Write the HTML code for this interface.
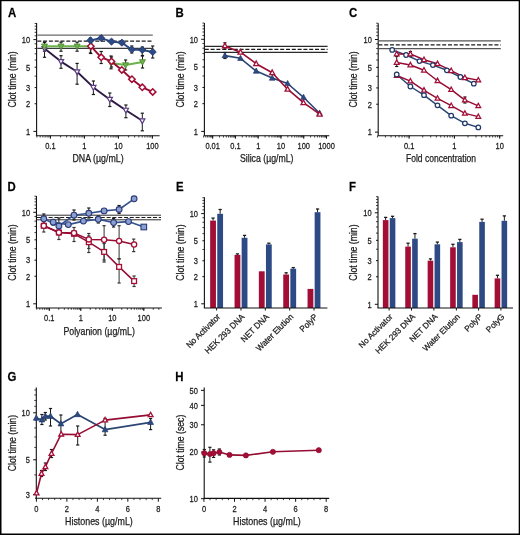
<!DOCTYPE html>
<html><head><meta charset="utf-8"><style>
html,body{margin:0;padding:0;background:#fff;}
svg{display:block;will-change:transform;}
text{font-family:"Liberation Sans", sans-serif;stroke:#222;stroke-width:0.25px;paint-order:stroke;}
</style></head><body>
<svg width="520" height="535" viewBox="0 0 520 535">
<rect x="0" y="0" width="520" height="535" fill="#fff"/>
<text x="0" y="0" font-size="12.4" font-weight="bold" fill="#000" transform="translate(7.9 16.6) scale(0.92 1)">A</text>
<text x="15.6" y="79.4" font-size="10.4" text-anchor="middle" font-weight="normal" fill="#1a1a1a" textLength="56.3" lengthAdjust="spacingAndGlyphs" transform="rotate(-90 15.6 79.4)" >Clot time (min)</text>
<line x1="36.6" y1="23.1" x2="36.6" y2="135.7" stroke="#111" stroke-width="1.1" />
<line x1="34.6" y1="76.13" x2="36.6" y2="76.13" stroke="#111" stroke-width="0.8" />
<line x1="34.6" y1="59.97" x2="36.6" y2="59.97" stroke="#111" stroke-width="0.8" />
<line x1="34.6" y1="53.82" x2="36.6" y2="53.82" stroke="#111" stroke-width="0.8" />
<line x1="34.6" y1="48.5" x2="36.6" y2="48.5" stroke="#111" stroke-width="0.8" />
<line x1="34.6" y1="43.8" x2="36.6" y2="43.8" stroke="#111" stroke-width="0.8" />
<line x1="34.6" y1="35.8" x2="36.6" y2="35.8" stroke="#111" stroke-width="0.8" />
<line x1="34.6" y1="32.33" x2="36.6" y2="32.33" stroke="#111" stroke-width="0.8" />
<line x1="34.6" y1="29.14" x2="36.6" y2="29.14" stroke="#111" stroke-width="0.8" />
<line x1="34.6" y1="26.19" x2="36.6" y2="26.19" stroke="#111" stroke-width="0.8" />
<line x1="34.6" y1="23.43" x2="36.6" y2="23.43" stroke="#111" stroke-width="0.8" />
<line x1="33.4" y1="131.4" x2="36.6" y2="131.4" stroke="#111" stroke-width="1.0" />
<text x="0" y="0" font-size="8.7" text-anchor="end" font-weight="normal" fill="#1a1a1a" transform="translate(30.2 134.7) scale(0.86 1)" >1</text>
<line x1="34.6" y1="103.77" x2="36.6" y2="103.77" stroke="#111" stroke-width="1.0" />
<text x="0" y="0" font-size="8.7" text-anchor="end" font-weight="normal" fill="#1a1a1a" transform="translate(30.2 107.07) scale(0.86 1)" >2</text>
<line x1="34.6" y1="87.6" x2="36.6" y2="87.6" stroke="#111" stroke-width="1.0" />
<text x="0" y="0" font-size="8.7" text-anchor="end" font-weight="normal" fill="#1a1a1a" transform="translate(30.2 90.9) scale(0.86 1)" >3</text>
<line x1="34.6" y1="67.23" x2="36.6" y2="67.23" stroke="#111" stroke-width="1.0" />
<text x="0" y="0" font-size="8.7" text-anchor="end" font-weight="normal" fill="#1a1a1a" transform="translate(30.2 70.53) scale(0.86 1)" >5</text>
<line x1="33.4" y1="39.6" x2="36.6" y2="39.6" stroke="#111" stroke-width="1.0" />
<text x="0" y="0" font-size="8.7" text-anchor="end" font-weight="normal" fill="#1a1a1a" transform="translate(30.2 42.9) scale(0.86 1)" >10</text>
<line x1="35.9" y1="135.7" x2="159.6" y2="135.7" stroke="#111" stroke-width="1.1" />
<line x1="36.87" y1="135.7" x2="36.87" y2="137.5" stroke="#111" stroke-width="0.8" />
<line x1="40.16" y1="135.7" x2="40.16" y2="137.5" stroke="#111" stroke-width="0.8" />
<line x1="42.86" y1="135.7" x2="42.86" y2="137.5" stroke="#111" stroke-width="0.8" />
<line x1="45.13" y1="135.7" x2="45.13" y2="137.5" stroke="#111" stroke-width="0.8" />
<line x1="47.11" y1="135.7" x2="47.11" y2="137.5" stroke="#111" stroke-width="0.8" />
<line x1="48.84" y1="135.7" x2="48.84" y2="137.5" stroke="#111" stroke-width="0.8" />
<line x1="50.4" y1="135.7" x2="50.4" y2="137.5" stroke="#111" stroke-width="0.8" />
<line x1="60.64" y1="135.7" x2="60.64" y2="137.5" stroke="#111" stroke-width="0.8" />
<line x1="66.62" y1="135.7" x2="66.62" y2="137.5" stroke="#111" stroke-width="0.8" />
<line x1="70.87" y1="135.7" x2="70.87" y2="137.5" stroke="#111" stroke-width="0.8" />
<line x1="74.16" y1="135.7" x2="74.16" y2="137.5" stroke="#111" stroke-width="0.8" />
<line x1="76.86" y1="135.7" x2="76.86" y2="137.5" stroke="#111" stroke-width="0.8" />
<line x1="79.13" y1="135.7" x2="79.13" y2="137.5" stroke="#111" stroke-width="0.8" />
<line x1="81.11" y1="135.7" x2="81.11" y2="137.5" stroke="#111" stroke-width="0.8" />
<line x1="82.84" y1="135.7" x2="82.84" y2="137.5" stroke="#111" stroke-width="0.8" />
<line x1="84.4" y1="135.7" x2="84.4" y2="137.5" stroke="#111" stroke-width="0.8" />
<line x1="94.64" y1="135.7" x2="94.64" y2="137.5" stroke="#111" stroke-width="0.8" />
<line x1="100.62" y1="135.7" x2="100.62" y2="137.5" stroke="#111" stroke-width="0.8" />
<line x1="104.87" y1="135.7" x2="104.87" y2="137.5" stroke="#111" stroke-width="0.8" />
<line x1="108.16" y1="135.7" x2="108.16" y2="137.5" stroke="#111" stroke-width="0.8" />
<line x1="110.86" y1="135.7" x2="110.86" y2="137.5" stroke="#111" stroke-width="0.8" />
<line x1="113.13" y1="135.7" x2="113.13" y2="137.5" stroke="#111" stroke-width="0.8" />
<line x1="115.11" y1="135.7" x2="115.11" y2="137.5" stroke="#111" stroke-width="0.8" />
<line x1="116.84" y1="135.7" x2="116.84" y2="137.5" stroke="#111" stroke-width="0.8" />
<line x1="118.4" y1="135.7" x2="118.4" y2="137.5" stroke="#111" stroke-width="0.8" />
<line x1="128.64" y1="135.7" x2="128.64" y2="137.5" stroke="#111" stroke-width="0.8" />
<line x1="134.62" y1="135.7" x2="134.62" y2="137.5" stroke="#111" stroke-width="0.8" />
<line x1="138.87" y1="135.7" x2="138.87" y2="137.5" stroke="#111" stroke-width="0.8" />
<line x1="142.16" y1="135.7" x2="142.16" y2="137.5" stroke="#111" stroke-width="0.8" />
<line x1="144.86" y1="135.7" x2="144.86" y2="137.5" stroke="#111" stroke-width="0.8" />
<line x1="147.13" y1="135.7" x2="147.13" y2="137.5" stroke="#111" stroke-width="0.8" />
<line x1="149.11" y1="135.7" x2="149.11" y2="137.5" stroke="#111" stroke-width="0.8" />
<line x1="150.84" y1="135.7" x2="150.84" y2="137.5" stroke="#111" stroke-width="0.8" />
<line x1="152.4" y1="135.7" x2="152.4" y2="137.5" stroke="#111" stroke-width="0.8" />
<line x1="50.4" y1="135.7" x2="50.4" y2="138.7" stroke="#111" stroke-width="1.0" />
<text x="0" y="0" font-size="8.7" text-anchor="middle" font-weight="normal" fill="#1a1a1a" transform="translate(50.4 149) scale(0.86 1)" >0.1</text>
<line x1="84.4" y1="135.7" x2="84.4" y2="138.7" stroke="#111" stroke-width="1.0" />
<text x="0" y="0" font-size="8.7" text-anchor="middle" font-weight="normal" fill="#1a1a1a" transform="translate(84.4 149) scale(0.86 1)" >1</text>
<line x1="118.4" y1="135.7" x2="118.4" y2="138.7" stroke="#111" stroke-width="1.0" />
<text x="0" y="0" font-size="8.7" text-anchor="middle" font-weight="normal" fill="#1a1a1a" transform="translate(118.4 149) scale(0.86 1)" >10</text>
<line x1="152.4" y1="135.7" x2="152.4" y2="138.7" stroke="#111" stroke-width="1.0" />
<text x="0" y="0" font-size="8.7" text-anchor="middle" font-weight="normal" fill="#1a1a1a" transform="translate(152.4 149) scale(0.86 1)" >100</text>
<text x="98.05" y="162.3" font-size="10.4" text-anchor="middle" font-weight="normal" fill="#1a1a1a" textLength="51.2" lengthAdjust="spacingAndGlyphs" >DNA (&#181;g/mL)</text>
<line x1="37.3" y1="35.1" x2="152.8" y2="35.1" stroke="#6a6a6a" stroke-width="1.2" />
<line x1="37.3" y1="41.2" x2="152.8" y2="41.2" stroke="#1a1a1a" stroke-width="1.2" stroke-dasharray="4 1.8"/>
<line x1="37.3" y1="48.3" x2="152.8" y2="48.3" stroke="#3a3a3a" stroke-width="1.2" />
<line x1="44.5" y1="42.5" x2="44.5" y2="57.3" stroke="#1a1a1a" stroke-width="1.0" />
<line x1="42.9" y1="42.5" x2="46.1" y2="42.5" stroke="#1a1a1a" stroke-width="1.2" />
<line x1="42.9" y1="57.3" x2="46.1" y2="57.3" stroke="#1a1a1a" stroke-width="1.2" />
<line x1="61" y1="55.7" x2="61" y2="68.3" stroke="#1a1a1a" stroke-width="1.0" />
<line x1="59.4" y1="55.7" x2="62.6" y2="55.7" stroke="#1a1a1a" stroke-width="1.2" />
<line x1="59.4" y1="68.3" x2="62.6" y2="68.3" stroke="#1a1a1a" stroke-width="1.2" />
<line x1="77.1" y1="63.4" x2="77.1" y2="84.2" stroke="#1a1a1a" stroke-width="1.0" />
<line x1="75.5" y1="63.4" x2="78.7" y2="63.4" stroke="#1a1a1a" stroke-width="1.2" />
<line x1="75.5" y1="84.2" x2="78.7" y2="84.2" stroke="#1a1a1a" stroke-width="1.2" />
<line x1="93.4" y1="81" x2="93.4" y2="94.5" stroke="#1a1a1a" stroke-width="1.0" />
<line x1="91.8" y1="81" x2="95" y2="81" stroke="#1a1a1a" stroke-width="1.2" />
<line x1="91.8" y1="94.5" x2="95" y2="94.5" stroke="#1a1a1a" stroke-width="1.2" />
<line x1="109.8" y1="93" x2="109.8" y2="106.5" stroke="#1a1a1a" stroke-width="1.0" />
<line x1="108.2" y1="93" x2="111.4" y2="93" stroke="#1a1a1a" stroke-width="1.2" />
<line x1="108.2" y1="106.5" x2="111.4" y2="106.5" stroke="#1a1a1a" stroke-width="1.2" />
<line x1="125.9" y1="105" x2="125.9" y2="117.7" stroke="#1a1a1a" stroke-width="1.0" />
<line x1="124.3" y1="105" x2="127.5" y2="105" stroke="#1a1a1a" stroke-width="1.2" />
<line x1="124.3" y1="117.7" x2="127.5" y2="117.7" stroke="#1a1a1a" stroke-width="1.2" />
<line x1="142.3" y1="113.2" x2="142.3" y2="130.8" stroke="#1a1a1a" stroke-width="1.0" />
<line x1="140.7" y1="113.2" x2="143.9" y2="113.2" stroke="#1a1a1a" stroke-width="1.2" />
<line x1="140.7" y1="130.8" x2="143.9" y2="130.8" stroke="#1a1a1a" stroke-width="1.2" />
<line x1="44.5" y1="42.2" x2="44.5" y2="51.2" stroke="#1a1a1a" stroke-width="1.0" />
<line x1="42.9" y1="42.2" x2="46.1" y2="42.2" stroke="#1a1a1a" stroke-width="1.2" />
<line x1="42.9" y1="51.2" x2="46.1" y2="51.2" stroke="#1a1a1a" stroke-width="1.2" />
<line x1="61" y1="42.2" x2="61" y2="51.2" stroke="#1a1a1a" stroke-width="1.0" />
<line x1="59.4" y1="42.2" x2="62.6" y2="42.2" stroke="#1a1a1a" stroke-width="1.2" />
<line x1="59.4" y1="51.2" x2="62.6" y2="51.2" stroke="#1a1a1a" stroke-width="1.2" />
<line x1="77.1" y1="42.2" x2="77.1" y2="51.2" stroke="#1a1a1a" stroke-width="1.0" />
<line x1="75.5" y1="42.2" x2="78.7" y2="42.2" stroke="#1a1a1a" stroke-width="1.2" />
<line x1="75.5" y1="51.2" x2="78.7" y2="51.2" stroke="#1a1a1a" stroke-width="1.2" />
<line x1="111" y1="56" x2="111" y2="68.8" stroke="#1a1a1a" stroke-width="1.0" />
<line x1="109.4" y1="56" x2="112.6" y2="56" stroke="#1a1a1a" stroke-width="1.2" />
<line x1="109.4" y1="68.8" x2="112.6" y2="68.8" stroke="#1a1a1a" stroke-width="1.2" />
<line x1="125.6" y1="60" x2="125.6" y2="70" stroke="#1a1a1a" stroke-width="1.0" />
<line x1="124" y1="60" x2="127.2" y2="60" stroke="#1a1a1a" stroke-width="1.2" />
<line x1="124" y1="70" x2="127.2" y2="70" stroke="#1a1a1a" stroke-width="1.2" />
<line x1="142.5" y1="55.5" x2="142.5" y2="68" stroke="#1a1a1a" stroke-width="1.0" />
<line x1="140.9" y1="55.5" x2="144.1" y2="55.5" stroke="#1a1a1a" stroke-width="1.2" />
<line x1="140.9" y1="68" x2="144.1" y2="68" stroke="#1a1a1a" stroke-width="1.2" />
<line x1="90.4" y1="38" x2="90.4" y2="53" stroke="#1a1a1a" stroke-width="1.0" />
<line x1="88.8" y1="38" x2="92" y2="38" stroke="#1a1a1a" stroke-width="1.2" />
<line x1="88.8" y1="53" x2="92" y2="53" stroke="#1a1a1a" stroke-width="1.2" />
<line x1="101.2" y1="36" x2="101.2" y2="39" stroke="#1a1a1a" stroke-width="1.0" />
<line x1="99.6" y1="36" x2="102.8" y2="36" stroke="#1a1a1a" stroke-width="1.2" />
<line x1="99.6" y1="39" x2="102.8" y2="39" stroke="#1a1a1a" stroke-width="1.2" />
<line x1="111.5" y1="40" x2="111.5" y2="43.5" stroke="#1a1a1a" stroke-width="1.0" />
<line x1="109.9" y1="40" x2="113.1" y2="40" stroke="#1a1a1a" stroke-width="1.2" />
<line x1="109.9" y1="43.5" x2="113.1" y2="43.5" stroke="#1a1a1a" stroke-width="1.2" />
<line x1="121.9" y1="41" x2="121.9" y2="44.5" stroke="#1a1a1a" stroke-width="1.0" />
<line x1="120.3" y1="41" x2="123.5" y2="41" stroke="#1a1a1a" stroke-width="1.2" />
<line x1="120.3" y1="44.5" x2="123.5" y2="44.5" stroke="#1a1a1a" stroke-width="1.2" />
<line x1="131.8" y1="46" x2="131.8" y2="53" stroke="#1a1a1a" stroke-width="1.0" />
<line x1="130.2" y1="46" x2="133.4" y2="46" stroke="#1a1a1a" stroke-width="1.2" />
<line x1="130.2" y1="53" x2="133.4" y2="53" stroke="#1a1a1a" stroke-width="1.2" />
<line x1="142.3" y1="47" x2="142.3" y2="56" stroke="#1a1a1a" stroke-width="1.0" />
<line x1="140.7" y1="47" x2="143.9" y2="47" stroke="#1a1a1a" stroke-width="1.2" />
<line x1="140.7" y1="56" x2="143.9" y2="56" stroke="#1a1a1a" stroke-width="1.2" />
<line x1="152.7" y1="46" x2="152.7" y2="58" stroke="#1a1a1a" stroke-width="1.0" />
<line x1="151.1" y1="46" x2="154.3" y2="46" stroke="#1a1a1a" stroke-width="1.2" />
<line x1="151.1" y1="58" x2="154.3" y2="58" stroke="#1a1a1a" stroke-width="1.2" />
<line x1="90.8" y1="43" x2="90.8" y2="53.5" stroke="#1a1a1a" stroke-width="1.0" />
<line x1="89.2" y1="43" x2="92.4" y2="43" stroke="#1a1a1a" stroke-width="1.2" />
<line x1="89.2" y1="53.5" x2="92.4" y2="53.5" stroke="#1a1a1a" stroke-width="1.2" />
<line x1="101.2" y1="51.5" x2="101.2" y2="63.5" stroke="#1a1a1a" stroke-width="1.0" />
<line x1="99.6" y1="51.5" x2="102.8" y2="51.5" stroke="#1a1a1a" stroke-width="1.2" />
<line x1="99.6" y1="63.5" x2="102.8" y2="63.5" stroke="#1a1a1a" stroke-width="1.2" />
<line x1="111.5" y1="57" x2="111.5" y2="67" stroke="#1a1a1a" stroke-width="1.0" />
<line x1="109.9" y1="57" x2="113.1" y2="57" stroke="#1a1a1a" stroke-width="1.2" />
<line x1="109.9" y1="67" x2="113.1" y2="67" stroke="#1a1a1a" stroke-width="1.2" />
<polyline points="44.5,48.6 61,61.6 77.1,71.8 93.4,87.4 109.8,99.4 125.9,110.2 142.3,120.8" fill="none" stroke="#2e1a45" stroke-width="1.9" stroke-linejoin="round"/>
<polygon points="44.5,51.46 47.1,46.65 41.9,46.65" fill="#fff" stroke="#5b3d82" stroke-width="1.2" stroke-linejoin="miter"/>
<polygon points="61,64.46 63.6,59.65 58.4,59.65" fill="#fff" stroke="#5b3d82" stroke-width="1.2" stroke-linejoin="miter"/>
<polygon points="77.1,74.66 79.7,69.85 74.5,69.85" fill="#fff" stroke="#5b3d82" stroke-width="1.2" stroke-linejoin="miter"/>
<polygon points="93.4,90.26 96,85.45 90.8,85.45" fill="#fff" stroke="#5b3d82" stroke-width="1.2" stroke-linejoin="miter"/>
<polygon points="109.8,102.26 112.4,97.45 107.2,97.45" fill="#fff" stroke="#5b3d82" stroke-width="1.2" stroke-linejoin="miter"/>
<polygon points="125.9,113.06 128.5,108.25 123.3,108.25" fill="#fff" stroke="#5b3d82" stroke-width="1.2" stroke-linejoin="miter"/>
<polygon points="142.3,123.66 144.9,118.85 139.7,118.85" fill="#fff" stroke="#5b3d82" stroke-width="1.2" stroke-linejoin="miter"/>
<polyline points="44.5,46.3 61,46.3 77.1,46.3 90.8,46.3" fill="none" stroke="#6db24a" stroke-width="2.0" stroke-linejoin="round"/>
<polyline points="111,63 125.6,65 142.5,61.9" fill="none" stroke="#6db24a" stroke-width="2.0" stroke-linejoin="round"/>
<polygon points="44.5,49.6 47.5,44.05 41.5,44.05" fill="#6db24a" stroke="#4c8a30" stroke-width="0.8" stroke-linejoin="miter"/>
<polygon points="61,49.6 64,44.05 58,44.05" fill="#6db24a" stroke="#4c8a30" stroke-width="0.8" stroke-linejoin="miter"/>
<polygon points="77.1,49.6 80.1,44.05 74.1,44.05" fill="#6db24a" stroke="#4c8a30" stroke-width="0.8" stroke-linejoin="miter"/>
<polygon points="111,66.3 114,60.75 108,60.75" fill="#6db24a" stroke="#4c8a30" stroke-width="0.8" stroke-linejoin="miter"/>
<polygon points="125.6,68.3 128.6,62.75 122.6,62.75" fill="#6db24a" stroke="#4c8a30" stroke-width="0.8" stroke-linejoin="miter"/>
<polygon points="142.5,65.2 145.5,59.65 139.5,59.65" fill="#6db24a" stroke="#4c8a30" stroke-width="0.8" stroke-linejoin="miter"/>
<polyline points="90.8,46.2 101.2,57.3 111.5,61.4 121.8,69.9 131.9,79.2 142.3,87.3 152.7,91.9" fill="none" stroke="#960c33" stroke-width="1.9" stroke-linejoin="round"/>
<polygon points="90.8,43 94,46.2 90.8,49.4 87.6,46.2" fill="#fff" stroke="#a30e36" stroke-width="1.5" stroke-linejoin="miter"/>
<polygon points="101.2,54.1 104.4,57.3 101.2,60.5 98,57.3" fill="#fff" stroke="#a30e36" stroke-width="1.5" stroke-linejoin="miter"/>
<polygon points="111.5,58.2 114.7,61.4 111.5,64.6 108.3,61.4" fill="#fff" stroke="#a30e36" stroke-width="1.5" stroke-linejoin="miter"/>
<polygon points="121.8,66.7 125,69.9 121.8,73.1 118.6,69.9" fill="#fff" stroke="#a30e36" stroke-width="1.5" stroke-linejoin="miter"/>
<polygon points="131.9,76 135.1,79.2 131.9,82.4 128.7,79.2" fill="#fff" stroke="#a30e36" stroke-width="1.5" stroke-linejoin="miter"/>
<polygon points="142.3,84.1 145.5,87.3 142.3,90.5 139.1,87.3" fill="#fff" stroke="#a30e36" stroke-width="1.5" stroke-linejoin="miter"/>
<polygon points="152.7,88.7 155.9,91.9 152.7,95.1 149.5,91.9" fill="#fff" stroke="#a30e36" stroke-width="1.5" stroke-linejoin="miter"/>
<polyline points="90.4,40.4 101.2,38.1 111.5,41.6 121.9,42.7 131.8,49.6 142.3,50 152.7,51.9" fill="none" stroke="#2d4a85" stroke-width="2.0" stroke-linejoin="round"/>
<polygon points="90.4,36.8 94,40.4 90.4,44 86.8,40.4" fill="#2d4a85" stroke="#213a6a" stroke-width="0.8" stroke-linejoin="miter"/>
<polygon points="101.2,34.5 104.8,38.1 101.2,41.7 97.6,38.1" fill="#2d4a85" stroke="#213a6a" stroke-width="0.8" stroke-linejoin="miter"/>
<polygon points="111.5,38 115.1,41.6 111.5,45.2 107.9,41.6" fill="#2d4a85" stroke="#213a6a" stroke-width="0.8" stroke-linejoin="miter"/>
<polygon points="121.9,39.1 125.5,42.7 121.9,46.3 118.3,42.7" fill="#2d4a85" stroke="#213a6a" stroke-width="0.8" stroke-linejoin="miter"/>
<polygon points="131.8,46 135.4,49.6 131.8,53.2 128.2,49.6" fill="#2d4a85" stroke="#213a6a" stroke-width="0.8" stroke-linejoin="miter"/>
<polygon points="142.3,46.4 145.9,50 142.3,53.6 138.7,50" fill="#2d4a85" stroke="#213a6a" stroke-width="0.8" stroke-linejoin="miter"/>
<polygon points="152.7,48.3 156.3,51.9 152.7,55.5 149.1,51.9" fill="#2d4a85" stroke="#213a6a" stroke-width="0.8" stroke-linejoin="miter"/>
<text x="0" y="0" font-size="12.4" font-weight="bold" fill="#000" transform="translate(175.6 16.5) scale(0.92 1)">B</text>
<text x="183.6" y="79.4" font-size="10.4" text-anchor="middle" font-weight="normal" fill="#1a1a1a" textLength="56.3" lengthAdjust="spacingAndGlyphs" transform="rotate(-90 183.6 79.4)" >Clot time (min)</text>
<line x1="204.4" y1="22.9" x2="204.4" y2="135.7" stroke="#111" stroke-width="1.1" />
<line x1="202.4" y1="75.95" x2="204.4" y2="75.95" stroke="#111" stroke-width="0.8" />
<line x1="202.4" y1="59.73" x2="204.4" y2="59.73" stroke="#111" stroke-width="0.8" />
<line x1="202.4" y1="53.57" x2="204.4" y2="53.57" stroke="#111" stroke-width="0.8" />
<line x1="202.4" y1="48.23" x2="204.4" y2="48.23" stroke="#111" stroke-width="0.8" />
<line x1="202.4" y1="43.51" x2="204.4" y2="43.51" stroke="#111" stroke-width="0.8" />
<line x1="202.4" y1="35.49" x2="204.4" y2="35.49" stroke="#111" stroke-width="0.8" />
<line x1="202.4" y1="32.01" x2="204.4" y2="32.01" stroke="#111" stroke-width="0.8" />
<line x1="202.4" y1="28.81" x2="204.4" y2="28.81" stroke="#111" stroke-width="0.8" />
<line x1="202.4" y1="25.84" x2="204.4" y2="25.84" stroke="#111" stroke-width="0.8" />
<line x1="202.4" y1="23.08" x2="204.4" y2="23.08" stroke="#111" stroke-width="0.8" />
<line x1="201.2" y1="131.4" x2="204.4" y2="131.4" stroke="#111" stroke-width="1.0" />
<text x="0" y="0" font-size="8.7" text-anchor="end" font-weight="normal" fill="#1a1a1a" transform="translate(198 134.7) scale(0.86 1)" >1</text>
<line x1="202.4" y1="103.68" x2="204.4" y2="103.68" stroke="#111" stroke-width="1.0" />
<text x="0" y="0" font-size="8.7" text-anchor="end" font-weight="normal" fill="#1a1a1a" transform="translate(198 106.98) scale(0.86 1)" >2</text>
<line x1="202.4" y1="87.46" x2="204.4" y2="87.46" stroke="#111" stroke-width="1.0" />
<text x="0" y="0" font-size="8.7" text-anchor="end" font-weight="normal" fill="#1a1a1a" transform="translate(198 90.76) scale(0.86 1)" >3</text>
<line x1="202.4" y1="67.02" x2="204.4" y2="67.02" stroke="#111" stroke-width="1.0" />
<text x="0" y="0" font-size="8.7" text-anchor="end" font-weight="normal" fill="#1a1a1a" transform="translate(198 70.32) scale(0.86 1)" >5</text>
<line x1="201.2" y1="39.3" x2="204.4" y2="39.3" stroke="#111" stroke-width="1.0" />
<text x="0" y="0" font-size="8.7" text-anchor="end" font-weight="normal" fill="#1a1a1a" transform="translate(198 42.6) scale(0.86 1)" >10</text>
<line x1="203.7" y1="135.7" x2="329.3" y2="135.7" stroke="#111" stroke-width="1.1" />
<line x1="203.6" y1="135.7" x2="203.6" y2="137.5" stroke="#111" stroke-width="0.8" />
<line x1="205.81" y1="135.7" x2="205.81" y2="137.5" stroke="#111" stroke-width="0.8" />
<line x1="207.61" y1="135.7" x2="207.61" y2="137.5" stroke="#111" stroke-width="0.8" />
<line x1="209.13" y1="135.7" x2="209.13" y2="137.5" stroke="#111" stroke-width="0.8" />
<line x1="210.45" y1="135.7" x2="210.45" y2="137.5" stroke="#111" stroke-width="0.8" />
<line x1="211.62" y1="135.7" x2="211.62" y2="137.5" stroke="#111" stroke-width="0.8" />
<line x1="212.66" y1="135.7" x2="212.66" y2="137.5" stroke="#111" stroke-width="0.8" />
<line x1="219.51" y1="135.7" x2="219.51" y2="137.5" stroke="#111" stroke-width="0.8" />
<line x1="223.52" y1="135.7" x2="223.52" y2="137.5" stroke="#111" stroke-width="0.8" />
<line x1="226.37" y1="135.7" x2="226.37" y2="137.5" stroke="#111" stroke-width="0.8" />
<line x1="228.58" y1="135.7" x2="228.58" y2="137.5" stroke="#111" stroke-width="0.8" />
<line x1="230.38" y1="135.7" x2="230.38" y2="137.5" stroke="#111" stroke-width="0.8" />
<line x1="231.9" y1="135.7" x2="231.9" y2="137.5" stroke="#111" stroke-width="0.8" />
<line x1="233.22" y1="135.7" x2="233.22" y2="137.5" stroke="#111" stroke-width="0.8" />
<line x1="234.39" y1="135.7" x2="234.39" y2="137.5" stroke="#111" stroke-width="0.8" />
<line x1="235.43" y1="135.7" x2="235.43" y2="137.5" stroke="#111" stroke-width="0.8" />
<line x1="242.28" y1="135.7" x2="242.28" y2="137.5" stroke="#111" stroke-width="0.8" />
<line x1="246.29" y1="135.7" x2="246.29" y2="137.5" stroke="#111" stroke-width="0.8" />
<line x1="249.14" y1="135.7" x2="249.14" y2="137.5" stroke="#111" stroke-width="0.8" />
<line x1="251.35" y1="135.7" x2="251.35" y2="137.5" stroke="#111" stroke-width="0.8" />
<line x1="253.15" y1="135.7" x2="253.15" y2="137.5" stroke="#111" stroke-width="0.8" />
<line x1="254.67" y1="135.7" x2="254.67" y2="137.5" stroke="#111" stroke-width="0.8" />
<line x1="255.99" y1="135.7" x2="255.99" y2="137.5" stroke="#111" stroke-width="0.8" />
<line x1="257.16" y1="135.7" x2="257.16" y2="137.5" stroke="#111" stroke-width="0.8" />
<line x1="258.2" y1="135.7" x2="258.2" y2="137.5" stroke="#111" stroke-width="0.8" />
<line x1="265.05" y1="135.7" x2="265.05" y2="137.5" stroke="#111" stroke-width="0.8" />
<line x1="269.06" y1="135.7" x2="269.06" y2="137.5" stroke="#111" stroke-width="0.8" />
<line x1="271.91" y1="135.7" x2="271.91" y2="137.5" stroke="#111" stroke-width="0.8" />
<line x1="274.12" y1="135.7" x2="274.12" y2="137.5" stroke="#111" stroke-width="0.8" />
<line x1="275.92" y1="135.7" x2="275.92" y2="137.5" stroke="#111" stroke-width="0.8" />
<line x1="277.44" y1="135.7" x2="277.44" y2="137.5" stroke="#111" stroke-width="0.8" />
<line x1="278.76" y1="135.7" x2="278.76" y2="137.5" stroke="#111" stroke-width="0.8" />
<line x1="279.93" y1="135.7" x2="279.93" y2="137.5" stroke="#111" stroke-width="0.8" />
<line x1="280.97" y1="135.7" x2="280.97" y2="137.5" stroke="#111" stroke-width="0.8" />
<line x1="287.82" y1="135.7" x2="287.82" y2="137.5" stroke="#111" stroke-width="0.8" />
<line x1="291.83" y1="135.7" x2="291.83" y2="137.5" stroke="#111" stroke-width="0.8" />
<line x1="294.68" y1="135.7" x2="294.68" y2="137.5" stroke="#111" stroke-width="0.8" />
<line x1="296.89" y1="135.7" x2="296.89" y2="137.5" stroke="#111" stroke-width="0.8" />
<line x1="298.69" y1="135.7" x2="298.69" y2="137.5" stroke="#111" stroke-width="0.8" />
<line x1="300.21" y1="135.7" x2="300.21" y2="137.5" stroke="#111" stroke-width="0.8" />
<line x1="301.53" y1="135.7" x2="301.53" y2="137.5" stroke="#111" stroke-width="0.8" />
<line x1="302.7" y1="135.7" x2="302.7" y2="137.5" stroke="#111" stroke-width="0.8" />
<line x1="303.74" y1="135.7" x2="303.74" y2="137.5" stroke="#111" stroke-width="0.8" />
<line x1="310.59" y1="135.7" x2="310.59" y2="137.5" stroke="#111" stroke-width="0.8" />
<line x1="314.6" y1="135.7" x2="314.6" y2="137.5" stroke="#111" stroke-width="0.8" />
<line x1="317.45" y1="135.7" x2="317.45" y2="137.5" stroke="#111" stroke-width="0.8" />
<line x1="319.66" y1="135.7" x2="319.66" y2="137.5" stroke="#111" stroke-width="0.8" />
<line x1="321.46" y1="135.7" x2="321.46" y2="137.5" stroke="#111" stroke-width="0.8" />
<line x1="322.98" y1="135.7" x2="322.98" y2="137.5" stroke="#111" stroke-width="0.8" />
<line x1="324.3" y1="135.7" x2="324.3" y2="137.5" stroke="#111" stroke-width="0.8" />
<line x1="325.47" y1="135.7" x2="325.47" y2="137.5" stroke="#111" stroke-width="0.8" />
<line x1="326.51" y1="135.7" x2="326.51" y2="137.5" stroke="#111" stroke-width="0.8" />
<line x1="212.66" y1="135.7" x2="212.66" y2="138.7" stroke="#111" stroke-width="1.0" />
<text x="0" y="0" font-size="8.7" text-anchor="middle" font-weight="normal" fill="#1a1a1a" transform="translate(212.66 149) scale(0.86 1)" >0.01</text>
<line x1="235.43" y1="135.7" x2="235.43" y2="138.7" stroke="#111" stroke-width="1.0" />
<text x="0" y="0" font-size="8.7" text-anchor="middle" font-weight="normal" fill="#1a1a1a" transform="translate(235.43 149) scale(0.86 1)" >0.1</text>
<line x1="258.2" y1="135.7" x2="258.2" y2="138.7" stroke="#111" stroke-width="1.0" />
<text x="0" y="0" font-size="8.7" text-anchor="middle" font-weight="normal" fill="#1a1a1a" transform="translate(258.2 149) scale(0.86 1)" >1</text>
<line x1="280.97" y1="135.7" x2="280.97" y2="138.7" stroke="#111" stroke-width="1.0" />
<text x="0" y="0" font-size="8.7" text-anchor="middle" font-weight="normal" fill="#1a1a1a" transform="translate(280.97 149) scale(0.86 1)" >10</text>
<line x1="303.74" y1="135.7" x2="303.74" y2="138.7" stroke="#111" stroke-width="1.0" />
<text x="0" y="0" font-size="8.7" text-anchor="middle" font-weight="normal" fill="#1a1a1a" transform="translate(303.74 149) scale(0.86 1)" >100</text>
<line x1="326.51" y1="135.7" x2="326.51" y2="138.7" stroke="#111" stroke-width="1.0" />
<text x="0" y="0" font-size="8.7" text-anchor="middle" font-weight="normal" fill="#1a1a1a" transform="translate(326.51 149) scale(0.86 1)" >1000</text>
<text x="266.75" y="162.4" font-size="10.4" text-anchor="middle" font-weight="normal" fill="#1a1a1a" textLength="53.6" lengthAdjust="spacingAndGlyphs" >Silica (&#181;g/mL)</text>
<line x1="204.8" y1="46.4" x2="327.6" y2="46.4" stroke="#2a2a2a" stroke-width="1.2" />
<line x1="204.8" y1="49.4" x2="327.6" y2="49.4" stroke="#1a1a1a" stroke-width="1.2" stroke-dasharray="4 1.8"/>
<line x1="204.8" y1="52.3" x2="327.6" y2="52.3" stroke="#2a2a2a" stroke-width="1.2" />
<line x1="224.9" y1="42.8" x2="224.9" y2="49" stroke="#1a1a1a" stroke-width="1.0" />
<line x1="223.3" y1="42.8" x2="226.5" y2="42.8" stroke="#1a1a1a" stroke-width="1.2" />
<line x1="223.3" y1="49" x2="226.5" y2="49" stroke="#1a1a1a" stroke-width="1.2" />
<line x1="224.9" y1="52.5" x2="224.9" y2="58.5" stroke="#1a1a1a" stroke-width="1.0" />
<line x1="223.3" y1="52.5" x2="226.5" y2="52.5" stroke="#1a1a1a" stroke-width="1.2" />
<line x1="223.3" y1="58.5" x2="226.5" y2="58.5" stroke="#1a1a1a" stroke-width="1.2" />
<polyline points="224.9,55.6 240.5,58.3 256.2,71.1 272.2,78.1 287.6,83.5 303.5,97.3 319.6,113.2" fill="none" stroke="#2b4673" stroke-width="1.6" stroke-linejoin="round"/>
<polygon points="224.9,52.52 227.7,57.7 222.1,57.7" fill="#2d4a85" stroke="#213a6a" stroke-width="0.7" stroke-linejoin="miter"/>
<polygon points="240.5,55.22 243.3,60.4 237.7,60.4" fill="#2d4a85" stroke="#213a6a" stroke-width="0.7" stroke-linejoin="miter"/>
<polygon points="256.2,68.02 259,73.2 253.4,73.2" fill="#2d4a85" stroke="#213a6a" stroke-width="0.7" stroke-linejoin="miter"/>
<polygon points="272.2,75.02 275,80.2 269.4,80.2" fill="#2d4a85" stroke="#213a6a" stroke-width="0.7" stroke-linejoin="miter"/>
<polygon points="287.6,80.42 290.4,85.6 284.8,85.6" fill="#2d4a85" stroke="#213a6a" stroke-width="0.7" stroke-linejoin="miter"/>
<polygon points="303.5,94.22 306.3,99.4 300.7,99.4" fill="#2d4a85" stroke="#213a6a" stroke-width="0.7" stroke-linejoin="miter"/>
<polygon points="319.6,110.12 322.4,115.3 316.8,115.3" fill="#2d4a85" stroke="#213a6a" stroke-width="0.7" stroke-linejoin="miter"/>
<polyline points="224.9,45.9 240.5,52.2 256.2,63.7 272.2,72.7 287.6,89.2 303.5,102.7 319.6,114.2" fill="none" stroke="#960c33" stroke-width="1.6" stroke-linejoin="round"/>
<polygon points="224.9,43.15 227.4,47.77 222.4,47.77" fill="#fff" stroke="#a30e36" stroke-width="1.3" stroke-linejoin="miter"/>
<polygon points="240.5,49.45 243,54.08 238,54.08" fill="#fff" stroke="#a30e36" stroke-width="1.3" stroke-linejoin="miter"/>
<polygon points="256.2,60.95 258.7,65.58 253.7,65.58" fill="#fff" stroke="#a30e36" stroke-width="1.3" stroke-linejoin="miter"/>
<polygon points="272.2,69.95 274.7,74.58 269.7,74.58" fill="#fff" stroke="#a30e36" stroke-width="1.3" stroke-linejoin="miter"/>
<polygon points="287.6,86.45 290.1,91.08 285.1,91.08" fill="#fff" stroke="#a30e36" stroke-width="1.3" stroke-linejoin="miter"/>
<polygon points="303.5,99.95 306,104.58 301,104.58" fill="#fff" stroke="#a30e36" stroke-width="1.3" stroke-linejoin="miter"/>
<polygon points="319.6,111.45 322.1,116.08 317.1,116.08" fill="#fff" stroke="#a30e36" stroke-width="1.3" stroke-linejoin="miter"/>
<text x="0" y="0" font-size="12.4" font-weight="bold" fill="#000" transform="translate(349.1 16.7) scale(0.92 1)">C</text>
<text x="357.2" y="79.4" font-size="10.4" text-anchor="middle" font-weight="normal" fill="#1a1a1a" textLength="56.3" lengthAdjust="spacingAndGlyphs" transform="rotate(-90 357.2 79.4)" >Clot time (min)</text>
<line x1="378.2" y1="23.2" x2="378.2" y2="135.7" stroke="#111" stroke-width="1.1" />
<line x1="376.2" y1="76.35" x2="378.2" y2="76.35" stroke="#111" stroke-width="0.8" />
<line x1="376.2" y1="60.04" x2="378.2" y2="60.04" stroke="#111" stroke-width="0.8" />
<line x1="376.2" y1="53.84" x2="378.2" y2="53.84" stroke="#111" stroke-width="0.8" />
<line x1="376.2" y1="48.47" x2="378.2" y2="48.47" stroke="#111" stroke-width="0.8" />
<line x1="376.2" y1="43.74" x2="378.2" y2="43.74" stroke="#111" stroke-width="0.8" />
<line x1="376.2" y1="35.67" x2="378.2" y2="35.67" stroke="#111" stroke-width="0.8" />
<line x1="376.2" y1="32.17" x2="378.2" y2="32.17" stroke="#111" stroke-width="0.8" />
<line x1="376.2" y1="28.95" x2="378.2" y2="28.95" stroke="#111" stroke-width="0.8" />
<line x1="376.2" y1="25.97" x2="378.2" y2="25.97" stroke="#111" stroke-width="0.8" />
<line x1="376.2" y1="23.19" x2="378.2" y2="23.19" stroke="#111" stroke-width="0.8" />
<line x1="375" y1="132.1" x2="378.2" y2="132.1" stroke="#111" stroke-width="1.0" />
<text x="0" y="0" font-size="8.7" text-anchor="end" font-weight="normal" fill="#1a1a1a" transform="translate(371.8 135.4) scale(0.86 1)" >1</text>
<line x1="376.2" y1="104.22" x2="378.2" y2="104.22" stroke="#111" stroke-width="1.0" />
<text x="0" y="0" font-size="8.7" text-anchor="end" font-weight="normal" fill="#1a1a1a" transform="translate(371.8 107.52) scale(0.86 1)" >2</text>
<line x1="376.2" y1="87.92" x2="378.2" y2="87.92" stroke="#111" stroke-width="1.0" />
<text x="0" y="0" font-size="8.7" text-anchor="end" font-weight="normal" fill="#1a1a1a" transform="translate(371.8 91.22) scale(0.86 1)" >3</text>
<line x1="376.2" y1="67.38" x2="378.2" y2="67.38" stroke="#111" stroke-width="1.0" />
<text x="0" y="0" font-size="8.7" text-anchor="end" font-weight="normal" fill="#1a1a1a" transform="translate(371.8 70.68) scale(0.86 1)" >5</text>
<line x1="375" y1="39.5" x2="378.2" y2="39.5" stroke="#111" stroke-width="1.0" />
<text x="0" y="0" font-size="8.7" text-anchor="end" font-weight="normal" fill="#1a1a1a" transform="translate(371.8 42.8) scale(0.86 1)" >10</text>
<line x1="377.6" y1="135.7" x2="503.2" y2="135.7" stroke="#111" stroke-width="1.1" />
<line x1="377.44" y1="135.7" x2="377.44" y2="137.5" stroke="#111" stroke-width="0.8" />
<line x1="385.41" y1="135.7" x2="385.41" y2="137.5" stroke="#111" stroke-width="0.8" />
<line x1="391.07" y1="135.7" x2="391.07" y2="137.5" stroke="#111" stroke-width="0.8" />
<line x1="395.46" y1="135.7" x2="395.46" y2="137.5" stroke="#111" stroke-width="0.8" />
<line x1="399.05" y1="135.7" x2="399.05" y2="137.5" stroke="#111" stroke-width="0.8" />
<line x1="402.08" y1="135.7" x2="402.08" y2="137.5" stroke="#111" stroke-width="0.8" />
<line x1="404.71" y1="135.7" x2="404.71" y2="137.5" stroke="#111" stroke-width="0.8" />
<line x1="407.03" y1="135.7" x2="407.03" y2="137.5" stroke="#111" stroke-width="0.8" />
<line x1="409.1" y1="135.7" x2="409.1" y2="137.5" stroke="#111" stroke-width="0.8" />
<line x1="422.74" y1="135.7" x2="422.74" y2="137.5" stroke="#111" stroke-width="0.8" />
<line x1="430.71" y1="135.7" x2="430.71" y2="137.5" stroke="#111" stroke-width="0.8" />
<line x1="436.37" y1="135.7" x2="436.37" y2="137.5" stroke="#111" stroke-width="0.8" />
<line x1="440.76" y1="135.7" x2="440.76" y2="137.5" stroke="#111" stroke-width="0.8" />
<line x1="444.35" y1="135.7" x2="444.35" y2="137.5" stroke="#111" stroke-width="0.8" />
<line x1="447.38" y1="135.7" x2="447.38" y2="137.5" stroke="#111" stroke-width="0.8" />
<line x1="450.01" y1="135.7" x2="450.01" y2="137.5" stroke="#111" stroke-width="0.8" />
<line x1="452.33" y1="135.7" x2="452.33" y2="137.5" stroke="#111" stroke-width="0.8" />
<line x1="454.4" y1="135.7" x2="454.4" y2="137.5" stroke="#111" stroke-width="0.8" />
<line x1="468.04" y1="135.7" x2="468.04" y2="137.5" stroke="#111" stroke-width="0.8" />
<line x1="476.01" y1="135.7" x2="476.01" y2="137.5" stroke="#111" stroke-width="0.8" />
<line x1="481.67" y1="135.7" x2="481.67" y2="137.5" stroke="#111" stroke-width="0.8" />
<line x1="486.06" y1="135.7" x2="486.06" y2="137.5" stroke="#111" stroke-width="0.8" />
<line x1="489.65" y1="135.7" x2="489.65" y2="137.5" stroke="#111" stroke-width="0.8" />
<line x1="492.68" y1="135.7" x2="492.68" y2="137.5" stroke="#111" stroke-width="0.8" />
<line x1="495.31" y1="135.7" x2="495.31" y2="137.5" stroke="#111" stroke-width="0.8" />
<line x1="497.63" y1="135.7" x2="497.63" y2="137.5" stroke="#111" stroke-width="0.8" />
<line x1="499.7" y1="135.7" x2="499.7" y2="137.5" stroke="#111" stroke-width="0.8" />
<line x1="409.1" y1="135.7" x2="409.1" y2="138.7" stroke="#111" stroke-width="1.0" />
<text x="0" y="0" font-size="8.7" text-anchor="middle" font-weight="normal" fill="#1a1a1a" transform="translate(409.1 149) scale(0.86 1)" >0.1</text>
<line x1="454.4" y1="135.7" x2="454.4" y2="138.7" stroke="#111" stroke-width="1.0" />
<text x="0" y="0" font-size="8.7" text-anchor="middle" font-weight="normal" fill="#1a1a1a" transform="translate(454.4 149) scale(0.86 1)" >1</text>
<line x1="499.7" y1="135.7" x2="499.7" y2="138.7" stroke="#111" stroke-width="1.0" />
<text x="0" y="0" font-size="8.7" text-anchor="middle" font-weight="normal" fill="#1a1a1a" transform="translate(499.7 149) scale(0.86 1)" >10</text>
<text x="441" y="162.3" font-size="10.4" text-anchor="middle" font-weight="normal" fill="#1a1a1a" textLength="70" lengthAdjust="spacingAndGlyphs" >Fold concentration</text>
<line x1="378.4" y1="40.8" x2="500.8" y2="40.8" stroke="#555" stroke-width="1.2" />
<line x1="378.4" y1="44.9" x2="500.8" y2="44.9" stroke="#1a1a1a" stroke-width="1.2" stroke-dasharray="4 1.8"/>
<line x1="378.4" y1="48.7" x2="500.8" y2="48.7" stroke="#555" stroke-width="1.2" />
<line x1="396.7" y1="56.5" x2="396.7" y2="66.5" stroke="#1a1a1a" stroke-width="1.0" />
<line x1="395.1" y1="56.5" x2="398.3" y2="56.5" stroke="#1a1a1a" stroke-width="1.2" />
<line x1="395.1" y1="66.5" x2="398.3" y2="66.5" stroke="#1a1a1a" stroke-width="1.2" />
<line x1="410.4" y1="51.5" x2="410.4" y2="56.5" stroke="#1a1a1a" stroke-width="1.0" />
<line x1="408.8" y1="51.5" x2="412" y2="51.5" stroke="#1a1a1a" stroke-width="1.2" />
<line x1="408.8" y1="56.5" x2="412" y2="56.5" stroke="#1a1a1a" stroke-width="1.2" />
<line x1="464.9" y1="97" x2="464.9" y2="103" stroke="#1a1a1a" stroke-width="1.0" />
<line x1="463.3" y1="97" x2="466.5" y2="97" stroke="#1a1a1a" stroke-width="1.2" />
<line x1="463.3" y1="103" x2="466.5" y2="103" stroke="#1a1a1a" stroke-width="1.2" />
<polyline points="396.7,74.5 410.4,86.5 424,95.2 437.5,105.3 451.2,115.7 464.9,123.3 478.3,127.4" fill="none" stroke="#2b4673" stroke-width="1.45" stroke-linejoin="round"/>
<polyline points="396.7,75.5 410.4,81.1 424,90.3 437.5,98.4 451.2,105.7 464.9,113.4 478.3,116.6" fill="none" stroke="#960c33" stroke-width="1.45" stroke-linejoin="round"/>
<polyline points="396.7,62.5 410.4,65 424,70.2 437.5,80.8 451.2,89.6 464.9,100.1 478.3,105.9" fill="none" stroke="#960c33" stroke-width="1.45" stroke-linejoin="round"/>
<polyline points="392.2,49.9 406.1,55 419.5,61.1 432.9,65.1 446.9,70.3 460.4,77 473.8,83.7" fill="none" stroke="#2b4673" stroke-width="1.45" stroke-linejoin="round"/>
<polyline points="396.7,54 410.4,54 424,59.7 437.5,63.8 451.2,70.7 464.9,77.7 478.3,80.1" fill="none" stroke="#960c33" stroke-width="1.45" stroke-linejoin="round"/>
<polygon points="396.7,72.86 399.1,77.3 394.3,77.3" fill="#fff" stroke="#a30e36" stroke-width="1.25" stroke-linejoin="miter"/>
<polygon points="410.4,78.46 412.8,82.9 408,82.9" fill="#fff" stroke="#a30e36" stroke-width="1.25" stroke-linejoin="miter"/>
<polygon points="424,87.66 426.4,92.1 421.6,92.1" fill="#fff" stroke="#a30e36" stroke-width="1.25" stroke-linejoin="miter"/>
<polygon points="437.5,95.76 439.9,100.2 435.1,100.2" fill="#fff" stroke="#a30e36" stroke-width="1.25" stroke-linejoin="miter"/>
<polygon points="451.2,103.06 453.6,107.5 448.8,107.5" fill="#fff" stroke="#a30e36" stroke-width="1.25" stroke-linejoin="miter"/>
<polygon points="464.9,110.76 467.3,115.2 462.5,115.2" fill="#fff" stroke="#a30e36" stroke-width="1.25" stroke-linejoin="miter"/>
<polygon points="478.3,113.96 480.7,118.4 475.9,118.4" fill="#fff" stroke="#a30e36" stroke-width="1.25" stroke-linejoin="miter"/>
<circle cx="396.7" cy="74.5" r="2.3" fill="#fff" stroke="#213a6a" stroke-width="1.25"/>
<circle cx="410.4" cy="86.5" r="2.3" fill="#fff" stroke="#213a6a" stroke-width="1.25"/>
<circle cx="424" cy="95.2" r="2.3" fill="#fff" stroke="#213a6a" stroke-width="1.25"/>
<circle cx="437.5" cy="105.3" r="2.3" fill="#fff" stroke="#213a6a" stroke-width="1.25"/>
<circle cx="451.2" cy="115.7" r="2.3" fill="#fff" stroke="#213a6a" stroke-width="1.25"/>
<circle cx="464.9" cy="123.3" r="2.3" fill="#fff" stroke="#213a6a" stroke-width="1.25"/>
<circle cx="478.3" cy="127.4" r="2.3" fill="#fff" stroke="#213a6a" stroke-width="1.25"/>
<polygon points="396.7,59.86 399.1,64.3 394.3,64.3" fill="#fff" stroke="#a30e36" stroke-width="1.25" stroke-linejoin="miter"/>
<polygon points="410.4,62.36 412.8,66.8 408,66.8" fill="#fff" stroke="#a30e36" stroke-width="1.25" stroke-linejoin="miter"/>
<polygon points="424,67.56 426.4,72 421.6,72" fill="#fff" stroke="#a30e36" stroke-width="1.25" stroke-linejoin="miter"/>
<polygon points="437.5,78.16 439.9,82.6 435.1,82.6" fill="#fff" stroke="#a30e36" stroke-width="1.25" stroke-linejoin="miter"/>
<polygon points="451.2,86.96 453.6,91.4 448.8,91.4" fill="#fff" stroke="#a30e36" stroke-width="1.25" stroke-linejoin="miter"/>
<polygon points="464.9,97.46 467.3,101.9 462.5,101.9" fill="#fff" stroke="#a30e36" stroke-width="1.25" stroke-linejoin="miter"/>
<polygon points="478.3,103.26 480.7,107.7 475.9,107.7" fill="#fff" stroke="#a30e36" stroke-width="1.25" stroke-linejoin="miter"/>
<circle cx="392.2" cy="49.9" r="2.3" fill="#fff" stroke="#213a6a" stroke-width="1.25"/>
<circle cx="406.1" cy="55" r="2.3" fill="#fff" stroke="#213a6a" stroke-width="1.25"/>
<circle cx="419.5" cy="61.1" r="2.3" fill="#fff" stroke="#213a6a" stroke-width="1.25"/>
<circle cx="432.9" cy="65.1" r="2.3" fill="#fff" stroke="#213a6a" stroke-width="1.25"/>
<circle cx="446.9" cy="70.3" r="2.3" fill="#fff" stroke="#213a6a" stroke-width="1.25"/>
<circle cx="460.4" cy="77" r="2.3" fill="#fff" stroke="#213a6a" stroke-width="1.25"/>
<circle cx="473.8" cy="83.7" r="2.3" fill="#fff" stroke="#213a6a" stroke-width="1.25"/>
<polygon points="396.7,51.36 399.1,55.8 394.3,55.8" fill="#fff" stroke="#a30e36" stroke-width="1.25" stroke-linejoin="miter"/>
<polygon points="410.4,51.36 412.8,55.8 408,55.8" fill="#fff" stroke="#a30e36" stroke-width="1.25" stroke-linejoin="miter"/>
<polygon points="424,57.06 426.4,61.5 421.6,61.5" fill="#fff" stroke="#a30e36" stroke-width="1.25" stroke-linejoin="miter"/>
<polygon points="437.5,61.16 439.9,65.6 435.1,65.6" fill="#fff" stroke="#a30e36" stroke-width="1.25" stroke-linejoin="miter"/>
<polygon points="451.2,68.06 453.6,72.5 448.8,72.5" fill="#fff" stroke="#a30e36" stroke-width="1.25" stroke-linejoin="miter"/>
<polygon points="464.9,75.06 467.3,79.5 462.5,79.5" fill="#fff" stroke="#a30e36" stroke-width="1.25" stroke-linejoin="miter"/>
<polygon points="478.3,77.46 480.7,81.9 475.9,81.9" fill="#fff" stroke="#a30e36" stroke-width="1.25" stroke-linejoin="miter"/>
<text x="0" y="0" font-size="12.4" font-weight="bold" fill="#000" transform="translate(7.5 190.5) scale(0.92 1)">D</text>
<text x="15.6" y="252.5" font-size="10.4" text-anchor="middle" font-weight="normal" fill="#1a1a1a" textLength="56.3" lengthAdjust="spacingAndGlyphs" transform="rotate(-90 15.6 252.5)" >Clot time (min)</text>
<line x1="36.45" y1="195.9" x2="36.45" y2="307.9" stroke="#111" stroke-width="1.1" />
<line x1="34.45" y1="248.71" x2="36.45" y2="248.71" stroke="#111" stroke-width="0.8" />
<line x1="34.45" y1="232.6" x2="36.45" y2="232.6" stroke="#111" stroke-width="0.8" />
<line x1="34.45" y1="226.47" x2="36.45" y2="226.47" stroke="#111" stroke-width="0.8" />
<line x1="34.45" y1="221.17" x2="36.45" y2="221.17" stroke="#111" stroke-width="0.8" />
<line x1="34.45" y1="216.49" x2="36.45" y2="216.49" stroke="#111" stroke-width="0.8" />
<line x1="34.45" y1="208.51" x2="36.45" y2="208.51" stroke="#111" stroke-width="0.8" />
<line x1="34.45" y1="205.05" x2="36.45" y2="205.05" stroke="#111" stroke-width="0.8" />
<line x1="34.45" y1="201.87" x2="36.45" y2="201.87" stroke="#111" stroke-width="0.8" />
<line x1="34.45" y1="198.93" x2="36.45" y2="198.93" stroke="#111" stroke-width="0.8" />
<line x1="34.45" y1="196.19" x2="36.45" y2="196.19" stroke="#111" stroke-width="0.8" />
<line x1="33.25" y1="303.8" x2="36.45" y2="303.8" stroke="#111" stroke-width="1.0" />
<text x="0" y="0" font-size="8.7" text-anchor="end" font-weight="normal" fill="#1a1a1a" transform="translate(30.05 307.1) scale(0.86 1)" >1</text>
<line x1="34.45" y1="276.26" x2="36.45" y2="276.26" stroke="#111" stroke-width="1.0" />
<text x="0" y="0" font-size="8.7" text-anchor="end" font-weight="normal" fill="#1a1a1a" transform="translate(30.05 279.56) scale(0.86 1)" >2</text>
<line x1="34.45" y1="260.14" x2="36.45" y2="260.14" stroke="#111" stroke-width="1.0" />
<text x="0" y="0" font-size="8.7" text-anchor="end" font-weight="normal" fill="#1a1a1a" transform="translate(30.05 263.44) scale(0.86 1)" >3</text>
<line x1="34.45" y1="239.84" x2="36.45" y2="239.84" stroke="#111" stroke-width="1.0" />
<text x="0" y="0" font-size="8.7" text-anchor="end" font-weight="normal" fill="#1a1a1a" transform="translate(30.05 243.14) scale(0.86 1)" >5</text>
<line x1="33.25" y1="212.3" x2="36.45" y2="212.3" stroke="#111" stroke-width="1.0" />
<text x="0" y="0" font-size="8.7" text-anchor="end" font-weight="normal" fill="#1a1a1a" transform="translate(30.05 215.6) scale(0.86 1)" >10</text>
<line x1="35.8" y1="308" x2="161.9" y2="308" stroke="#111" stroke-width="1.1" />
<line x1="36.76" y1="308" x2="36.76" y2="309.8" stroke="#111" stroke-width="0.8" />
<line x1="39.82" y1="308" x2="39.82" y2="309.8" stroke="#111" stroke-width="0.8" />
<line x1="42.31" y1="308" x2="42.31" y2="309.8" stroke="#111" stroke-width="0.8" />
<line x1="44.42" y1="308" x2="44.42" y2="309.8" stroke="#111" stroke-width="0.8" />
<line x1="46.25" y1="308" x2="46.25" y2="309.8" stroke="#111" stroke-width="0.8" />
<line x1="47.86" y1="308" x2="47.86" y2="309.8" stroke="#111" stroke-width="0.8" />
<line x1="49.3" y1="308" x2="49.3" y2="309.8" stroke="#111" stroke-width="0.8" />
<line x1="58.78" y1="308" x2="58.78" y2="309.8" stroke="#111" stroke-width="0.8" />
<line x1="64.33" y1="308" x2="64.33" y2="309.8" stroke="#111" stroke-width="0.8" />
<line x1="68.26" y1="308" x2="68.26" y2="309.8" stroke="#111" stroke-width="0.8" />
<line x1="71.32" y1="308" x2="71.32" y2="309.8" stroke="#111" stroke-width="0.8" />
<line x1="73.81" y1="308" x2="73.81" y2="309.8" stroke="#111" stroke-width="0.8" />
<line x1="75.92" y1="308" x2="75.92" y2="309.8" stroke="#111" stroke-width="0.8" />
<line x1="77.75" y1="308" x2="77.75" y2="309.8" stroke="#111" stroke-width="0.8" />
<line x1="79.36" y1="308" x2="79.36" y2="309.8" stroke="#111" stroke-width="0.8" />
<line x1="80.8" y1="308" x2="80.8" y2="309.8" stroke="#111" stroke-width="0.8" />
<line x1="90.28" y1="308" x2="90.28" y2="309.8" stroke="#111" stroke-width="0.8" />
<line x1="95.83" y1="308" x2="95.83" y2="309.8" stroke="#111" stroke-width="0.8" />
<line x1="99.76" y1="308" x2="99.76" y2="309.8" stroke="#111" stroke-width="0.8" />
<line x1="102.82" y1="308" x2="102.82" y2="309.8" stroke="#111" stroke-width="0.8" />
<line x1="105.31" y1="308" x2="105.31" y2="309.8" stroke="#111" stroke-width="0.8" />
<line x1="107.42" y1="308" x2="107.42" y2="309.8" stroke="#111" stroke-width="0.8" />
<line x1="109.25" y1="308" x2="109.25" y2="309.8" stroke="#111" stroke-width="0.8" />
<line x1="110.86" y1="308" x2="110.86" y2="309.8" stroke="#111" stroke-width="0.8" />
<line x1="112.3" y1="308" x2="112.3" y2="309.8" stroke="#111" stroke-width="0.8" />
<line x1="121.78" y1="308" x2="121.78" y2="309.8" stroke="#111" stroke-width="0.8" />
<line x1="127.33" y1="308" x2="127.33" y2="309.8" stroke="#111" stroke-width="0.8" />
<line x1="131.26" y1="308" x2="131.26" y2="309.8" stroke="#111" stroke-width="0.8" />
<line x1="134.32" y1="308" x2="134.32" y2="309.8" stroke="#111" stroke-width="0.8" />
<line x1="136.81" y1="308" x2="136.81" y2="309.8" stroke="#111" stroke-width="0.8" />
<line x1="138.92" y1="308" x2="138.92" y2="309.8" stroke="#111" stroke-width="0.8" />
<line x1="140.75" y1="308" x2="140.75" y2="309.8" stroke="#111" stroke-width="0.8" />
<line x1="142.36" y1="308" x2="142.36" y2="309.8" stroke="#111" stroke-width="0.8" />
<line x1="143.8" y1="308" x2="143.8" y2="309.8" stroke="#111" stroke-width="0.8" />
<line x1="153.28" y1="308" x2="153.28" y2="309.8" stroke="#111" stroke-width="0.8" />
<line x1="158.83" y1="308" x2="158.83" y2="309.8" stroke="#111" stroke-width="0.8" />
<line x1="49.3" y1="308" x2="49.3" y2="311" stroke="#111" stroke-width="1.0" />
<text x="0" y="0" font-size="8.7" text-anchor="middle" font-weight="normal" fill="#1a1a1a" transform="translate(49.3 321.3) scale(0.86 1)" >0.1</text>
<line x1="80.8" y1="308" x2="80.8" y2="311" stroke="#111" stroke-width="1.0" />
<text x="0" y="0" font-size="8.7" text-anchor="middle" font-weight="normal" fill="#1a1a1a" transform="translate(80.8 321.3) scale(0.86 1)" >1</text>
<line x1="112.3" y1="308" x2="112.3" y2="311" stroke="#111" stroke-width="1.0" />
<text x="0" y="0" font-size="8.7" text-anchor="middle" font-weight="normal" fill="#1a1a1a" transform="translate(112.3 321.3) scale(0.86 1)" >10</text>
<line x1="143.8" y1="308" x2="143.8" y2="311" stroke="#111" stroke-width="1.0" />
<text x="0" y="0" font-size="8.7" text-anchor="middle" font-weight="normal" fill="#1a1a1a" transform="translate(143.8 321.3) scale(0.86 1)" >100</text>
<text x="99.15" y="335" font-size="10.4" text-anchor="middle" font-weight="normal" fill="#1a1a1a" textLength="71.4" lengthAdjust="spacingAndGlyphs" >Polyanion (&#181;g/mL)</text>
<line x1="37" y1="215.2" x2="161" y2="215.2" stroke="#222" stroke-width="0.95" />
<line x1="37" y1="217.5" x2="161" y2="217.5" stroke="#111" stroke-width="0.95" stroke-dasharray="4 1.8"/>
<line x1="37" y1="219.8" x2="161" y2="219.8" stroke="#222" stroke-width="0.95" />
<line x1="43.8" y1="214" x2="43.8" y2="223.5" stroke="#1a1a1a" stroke-width="1.0" />
<line x1="42.2" y1="214" x2="45.4" y2="214" stroke="#1a1a1a" stroke-width="1.2" />
<line x1="42.2" y1="223.5" x2="45.4" y2="223.5" stroke="#1a1a1a" stroke-width="1.2" />
<line x1="58.9" y1="218" x2="58.9" y2="233" stroke="#1a1a1a" stroke-width="1.0" />
<line x1="57.3" y1="218" x2="60.5" y2="218" stroke="#1a1a1a" stroke-width="1.2" />
<line x1="57.3" y1="233" x2="60.5" y2="233" stroke="#1a1a1a" stroke-width="1.2" />
<line x1="74" y1="210" x2="74" y2="220" stroke="#1a1a1a" stroke-width="1.0" />
<line x1="72.4" y1="210" x2="75.6" y2="210" stroke="#1a1a1a" stroke-width="1.2" />
<line x1="72.4" y1="220" x2="75.6" y2="220" stroke="#1a1a1a" stroke-width="1.2" />
<line x1="88.8" y1="208" x2="88.8" y2="218" stroke="#1a1a1a" stroke-width="1.0" />
<line x1="87.2" y1="208" x2="90.4" y2="208" stroke="#1a1a1a" stroke-width="1.2" />
<line x1="87.2" y1="218" x2="90.4" y2="218" stroke="#1a1a1a" stroke-width="1.2" />
<line x1="119.1" y1="205.5" x2="119.1" y2="213.5" stroke="#1a1a1a" stroke-width="1.0" />
<line x1="117.5" y1="205.5" x2="120.7" y2="205.5" stroke="#1a1a1a" stroke-width="1.2" />
<line x1="117.5" y1="213.5" x2="120.7" y2="213.5" stroke="#1a1a1a" stroke-width="1.2" />
<line x1="53.2" y1="219.5" x2="53.2" y2="225" stroke="#1a1a1a" stroke-width="1.0" />
<line x1="51.6" y1="219.5" x2="54.8" y2="219.5" stroke="#1a1a1a" stroke-width="1.2" />
<line x1="51.6" y1="225" x2="54.8" y2="225" stroke="#1a1a1a" stroke-width="1.2" />
<line x1="98.3" y1="216" x2="98.3" y2="223" stroke="#1a1a1a" stroke-width="1.0" />
<line x1="96.7" y1="216" x2="99.9" y2="216" stroke="#1a1a1a" stroke-width="1.2" />
<line x1="96.7" y1="223" x2="99.9" y2="223" stroke="#1a1a1a" stroke-width="1.2" />
<line x1="113.6" y1="218.5" x2="113.6" y2="227" stroke="#1a1a1a" stroke-width="1.0" />
<line x1="112" y1="218.5" x2="115.2" y2="218.5" stroke="#1a1a1a" stroke-width="1.2" />
<line x1="112" y1="227" x2="115.2" y2="227" stroke="#1a1a1a" stroke-width="1.2" />
<line x1="43.8" y1="221.5" x2="43.8" y2="232" stroke="#333" stroke-width="1.0" />
<line x1="42.2" y1="221.5" x2="45.4" y2="221.5" stroke="#333" stroke-width="1.2" />
<line x1="42.2" y1="232" x2="45.4" y2="232" stroke="#333" stroke-width="1.2" />
<line x1="58.9" y1="228" x2="58.9" y2="239.5" stroke="#333" stroke-width="1.0" />
<line x1="57.3" y1="228" x2="60.5" y2="228" stroke="#333" stroke-width="1.2" />
<line x1="57.3" y1="239.5" x2="60.5" y2="239.5" stroke="#333" stroke-width="1.2" />
<line x1="74" y1="227.5" x2="74" y2="241.5" stroke="#333" stroke-width="1.0" />
<line x1="72.4" y1="227.5" x2="75.6" y2="227.5" stroke="#333" stroke-width="1.2" />
<line x1="72.4" y1="241.5" x2="75.6" y2="241.5" stroke="#333" stroke-width="1.2" />
<line x1="88.8" y1="233.5" x2="88.8" y2="252.5" stroke="#333" stroke-width="1.0" />
<line x1="87.2" y1="233.5" x2="90.4" y2="233.5" stroke="#333" stroke-width="1.2" />
<line x1="87.2" y1="252.5" x2="90.4" y2="252.5" stroke="#333" stroke-width="1.2" />
<line x1="104.1" y1="225.7" x2="104.1" y2="262" stroke="#333" stroke-width="1.0" />
<line x1="102.5" y1="225.7" x2="105.7" y2="225.7" stroke="#333" stroke-width="1.2" />
<line x1="102.5" y1="262" x2="105.7" y2="262" stroke="#333" stroke-width="1.2" />
<line x1="119.1" y1="225.7" x2="119.1" y2="258.6" stroke="#333" stroke-width="1.0" />
<line x1="117.5" y1="225.7" x2="120.7" y2="225.7" stroke="#333" stroke-width="1.2" />
<line x1="117.5" y1="258.6" x2="120.7" y2="258.6" stroke="#333" stroke-width="1.2" />
<line x1="133.7" y1="239.1" x2="133.7" y2="251.6" stroke="#333" stroke-width="1.0" />
<line x1="132.1" y1="239.1" x2="135.3" y2="239.1" stroke="#333" stroke-width="1.2" />
<line x1="132.1" y1="251.6" x2="135.3" y2="251.6" stroke="#333" stroke-width="1.2" />
<line x1="104.1" y1="243.5" x2="104.1" y2="260" stroke="#333" stroke-width="1.0" />
<line x1="102.5" y1="243.5" x2="105.7" y2="243.5" stroke="#333" stroke-width="1.2" />
<line x1="102.5" y1="260" x2="105.7" y2="260" stroke="#333" stroke-width="1.2" />
<line x1="119.1" y1="259" x2="119.1" y2="283" stroke="#333" stroke-width="1.0" />
<line x1="117.5" y1="259" x2="120.7" y2="259" stroke="#333" stroke-width="1.2" />
<line x1="117.5" y1="283" x2="120.7" y2="283" stroke="#333" stroke-width="1.2" />
<line x1="134.1" y1="276" x2="134.1" y2="286.5" stroke="#333" stroke-width="1.0" />
<line x1="132.5" y1="276" x2="135.7" y2="276" stroke="#333" stroke-width="1.2" />
<line x1="132.5" y1="286.5" x2="135.7" y2="286.5" stroke="#333" stroke-width="1.2" />
<line x1="88.8" y1="236" x2="88.8" y2="248.5" stroke="#333" stroke-width="1.0" />
<line x1="87.2" y1="236" x2="90.4" y2="236" stroke="#333" stroke-width="1.2" />
<line x1="87.2" y1="248.5" x2="90.4" y2="248.5" stroke="#333" stroke-width="1.2" />
<polyline points="43.8,225.8 58.9,232.5 74,233.8 88.8,242.2 104.1,251.9 119.1,266.9 134.1,281.1" fill="none" stroke="#960c33" stroke-width="1.5" stroke-linejoin="round"/>
<polyline points="43.8,225.8 58.9,232.5 74,233 88.8,239.4 104.1,239.8 119.1,240.9 134.1,244.5" fill="none" stroke="#960c33" stroke-width="1.5" stroke-linejoin="round"/>
<rect x="41.4" y="223.4" width="4.8" height="4.8" fill="#fff" stroke="#a30e36" stroke-width="1.3"/>
<rect x="56.5" y="230.1" width="4.8" height="4.8" fill="#fff" stroke="#a30e36" stroke-width="1.3"/>
<rect x="71.6" y="231.4" width="4.8" height="4.8" fill="#fff" stroke="#a30e36" stroke-width="1.3"/>
<rect x="86.4" y="239.8" width="4.8" height="4.8" fill="#fff" stroke="#a30e36" stroke-width="1.3"/>
<rect x="101.7" y="249.5" width="4.8" height="4.8" fill="#fff" stroke="#a30e36" stroke-width="1.3"/>
<rect x="116.7" y="264.5" width="4.8" height="4.8" fill="#fff" stroke="#a30e36" stroke-width="1.3"/>
<rect x="131.7" y="278.7" width="4.8" height="4.8" fill="#fff" stroke="#a30e36" stroke-width="1.3"/>
<circle cx="43.8" cy="225.8" r="2.6" fill="#fff" stroke="#a30e36" stroke-width="1.3"/>
<circle cx="58.9" cy="232.5" r="2.6" fill="#fff" stroke="#a30e36" stroke-width="1.3"/>
<circle cx="74" cy="233" r="2.6" fill="#fff" stroke="#a30e36" stroke-width="1.3"/>
<circle cx="88.8" cy="239.4" r="2.6" fill="#fff" stroke="#a30e36" stroke-width="1.3"/>
<circle cx="104.1" cy="239.8" r="2.6" fill="#fff" stroke="#a30e36" stroke-width="1.3"/>
<circle cx="119.1" cy="240.9" r="2.6" fill="#fff" stroke="#a30e36" stroke-width="1.3"/>
<circle cx="134.1" cy="244.5" r="2.6" fill="#fff" stroke="#a30e36" stroke-width="1.3"/>
<polyline points="53.2,222.2 68.3,224.6 83.4,221.1 98.3,219.3 113.6,222.6 128.5,221.6 143.8,227" fill="none" stroke="#35518e" stroke-width="1.6" stroke-linejoin="round"/>
<polyline points="43.8,218.8 58.9,226 74,215.2 88.8,213.3 104.1,210.9 119.1,209.5 134.1,198.8" fill="none" stroke="#35518e" stroke-width="1.6" stroke-linejoin="round"/>
<circle cx="53.2" cy="222.2" r="2.9" fill="#8c9fd2" stroke="#2a3b78" stroke-width="1.1"/>
<circle cx="68.3" cy="224.6" r="2.9" fill="#8c9fd2" stroke="#2a3b78" stroke-width="1.1"/>
<circle cx="83.4" cy="221.1" r="2.9" fill="#8c9fd2" stroke="#2a3b78" stroke-width="1.1"/>
<circle cx="98.3" cy="219.3" r="2.9" fill="#8c9fd2" stroke="#2a3b78" stroke-width="1.1"/>
<circle cx="113.6" cy="222.6" r="2.9" fill="#8c9fd2" stroke="#2a3b78" stroke-width="1.1"/>
<circle cx="128.5" cy="221.6" r="2.9" fill="#8c9fd2" stroke="#2a3b78" stroke-width="1.1"/>
<rect x="141" y="224.2" width="5.6" height="5.6" fill="#8c9fd2" stroke="#2a3b78" stroke-width="1.1"/>
<circle cx="43.8" cy="218.8" r="2.9" fill="#8c9fd2" stroke="#2a3b78" stroke-width="1.1"/>
<circle cx="58.9" cy="226" r="2.9" fill="#8c9fd2" stroke="#2a3b78" stroke-width="1.1"/>
<circle cx="74" cy="215.2" r="2.9" fill="#8c9fd2" stroke="#2a3b78" stroke-width="1.1"/>
<circle cx="88.8" cy="213.3" r="2.9" fill="#8c9fd2" stroke="#2a3b78" stroke-width="1.1"/>
<circle cx="104.1" cy="210.9" r="2.9" fill="#8c9fd2" stroke="#2a3b78" stroke-width="1.1"/>
<circle cx="119.1" cy="209.5" r="2.9" fill="#8c9fd2" stroke="#2a3b78" stroke-width="1.1"/>
<circle cx="134.1" cy="198.8" r="2.9" fill="#8c9fd2" stroke="#2a3b78" stroke-width="1.1"/>
<text x="0" y="0" font-size="12.4" font-weight="bold" fill="#000" transform="translate(175.9 190.5) scale(0.92 1)">E</text>
<text x="183.6" y="252.6" font-size="10.4" text-anchor="middle" font-weight="normal" fill="#1a1a1a" textLength="56.3" lengthAdjust="spacingAndGlyphs" transform="rotate(-90 183.6 252.6)" >Clot time (min)</text>
<line x1="204.4" y1="197.3" x2="204.4" y2="308" stroke="#111" stroke-width="1.1" />
<line x1="202.4" y1="249.49" x2="204.4" y2="249.49" stroke="#111" stroke-width="0.8" />
<line x1="202.4" y1="233.61" x2="204.4" y2="233.61" stroke="#111" stroke-width="0.8" />
<line x1="202.4" y1="227.57" x2="204.4" y2="227.57" stroke="#111" stroke-width="0.8" />
<line x1="202.4" y1="222.34" x2="204.4" y2="222.34" stroke="#111" stroke-width="0.8" />
<line x1="202.4" y1="217.73" x2="204.4" y2="217.73" stroke="#111" stroke-width="0.8" />
<line x1="202.4" y1="209.87" x2="204.4" y2="209.87" stroke="#111" stroke-width="0.8" />
<line x1="202.4" y1="206.46" x2="204.4" y2="206.46" stroke="#111" stroke-width="0.8" />
<line x1="202.4" y1="203.32" x2="204.4" y2="203.32" stroke="#111" stroke-width="0.8" />
<line x1="202.4" y1="200.42" x2="204.4" y2="200.42" stroke="#111" stroke-width="0.8" />
<line x1="202.4" y1="197.72" x2="204.4" y2="197.72" stroke="#111" stroke-width="0.8" />
<line x1="201.2" y1="303.8" x2="204.4" y2="303.8" stroke="#111" stroke-width="1.0" />
<text x="0" y="0" font-size="8.7" text-anchor="end" font-weight="normal" fill="#1a1a1a" transform="translate(198 307.1) scale(0.86 1)" >1</text>
<line x1="202.4" y1="276.65" x2="204.4" y2="276.65" stroke="#111" stroke-width="1.0" />
<text x="0" y="0" font-size="8.7" text-anchor="end" font-weight="normal" fill="#1a1a1a" transform="translate(198 279.95) scale(0.86 1)" >2</text>
<line x1="202.4" y1="260.76" x2="204.4" y2="260.76" stroke="#111" stroke-width="1.0" />
<text x="0" y="0" font-size="8.7" text-anchor="end" font-weight="normal" fill="#1a1a1a" transform="translate(198 264.06) scale(0.86 1)" >3</text>
<line x1="202.4" y1="240.75" x2="204.4" y2="240.75" stroke="#111" stroke-width="1.0" />
<text x="0" y="0" font-size="8.7" text-anchor="end" font-weight="normal" fill="#1a1a1a" transform="translate(198 244.05) scale(0.86 1)" >5</text>
<line x1="201.2" y1="213.6" x2="204.4" y2="213.6" stroke="#111" stroke-width="1.0" />
<text x="0" y="0" font-size="8.7" text-anchor="end" font-weight="normal" fill="#1a1a1a" transform="translate(198 216.9) scale(0.86 1)" >10</text>
<line x1="213.05" y1="218.1" x2="213.05" y2="220.6" stroke="#1a1a1a" stroke-width="1.0" />
<line x1="211.45" y1="218.1" x2="214.65" y2="218.1" stroke="#1a1a1a" stroke-width="1.3" />
<line x1="220.15" y1="209.5" x2="220.15" y2="213.8" stroke="#1a1a1a" stroke-width="1.0" />
<line x1="218.55" y1="209.5" x2="221.75" y2="209.5" stroke="#1a1a1a" stroke-width="1.3" />
<rect x="210.15" y="220.6" width="5.8" height="87.4" fill="#a30e36"/>
<rect x="217.25" y="213.8" width="5.8" height="94.2" fill="#2d4a85"/>
<line x1="237.45" y1="253.9" x2="237.45" y2="254.9" stroke="#1a1a1a" stroke-width="1.0" />
<line x1="235.85" y1="253.9" x2="239.05" y2="253.9" stroke="#1a1a1a" stroke-width="1.3" />
<line x1="244.55" y1="235.4" x2="244.55" y2="237.8" stroke="#1a1a1a" stroke-width="1.0" />
<line x1="242.95" y1="235.4" x2="246.15" y2="235.4" stroke="#1a1a1a" stroke-width="1.3" />
<rect x="234.55" y="254.9" width="5.8" height="53.1" fill="#a30e36"/>
<rect x="241.65" y="237.8" width="5.8" height="70.2" fill="#2d4a85"/>
<line x1="268.85" y1="243.2" x2="268.85" y2="244.4" stroke="#1a1a1a" stroke-width="1.0" />
<line x1="267.25" y1="243.2" x2="270.45" y2="243.2" stroke="#1a1a1a" stroke-width="1.3" />
<rect x="258.85" y="271.3" width="5.8" height="36.7" fill="#a30e36"/>
<rect x="265.95" y="244.4" width="5.8" height="63.6" fill="#2d4a85"/>
<line x1="286.15" y1="272.8" x2="286.15" y2="274.5" stroke="#1a1a1a" stroke-width="1.0" />
<line x1="284.55" y1="272.8" x2="287.75" y2="272.8" stroke="#1a1a1a" stroke-width="1.3" />
<line x1="293.25" y1="267.6" x2="293.25" y2="268.7" stroke="#1a1a1a" stroke-width="1.0" />
<line x1="291.65" y1="267.6" x2="294.85" y2="267.6" stroke="#1a1a1a" stroke-width="1.3" />
<rect x="283.25" y="274.5" width="5.8" height="33.5" fill="#a30e36"/>
<rect x="290.35" y="268.7" width="5.8" height="39.3" fill="#2d4a85"/>
<line x1="317.55" y1="209" x2="317.55" y2="212.2" stroke="#1a1a1a" stroke-width="1.0" />
<line x1="315.95" y1="209" x2="319.15" y2="209" stroke="#1a1a1a" stroke-width="1.3" />
<rect x="307.55" y="288.9" width="5.8" height="19.1" fill="#a30e36"/>
<rect x="314.65" y="212.2" width="5.8" height="95.8" fill="#2d4a85"/>
<line x1="203.9" y1="308" x2="327.4" y2="308" stroke="#111" stroke-width="1.2" />
<line x1="216.6" y1="308" x2="216.6" y2="310.5" stroke="#111" stroke-width="1.0" />
<line x1="241" y1="308" x2="241" y2="310.5" stroke="#111" stroke-width="1.0" />
<line x1="265.3" y1="308" x2="265.3" y2="310.5" stroke="#111" stroke-width="1.0" />
<line x1="289.7" y1="308" x2="289.7" y2="310.5" stroke="#111" stroke-width="1.0" />
<line x1="314" y1="308" x2="314" y2="310.5" stroke="#111" stroke-width="1.0" />
<text x="220.8" y="317.4" font-size="8.6" text-anchor="end" font-weight="normal" fill="#1a1a1a" textLength="44.04" lengthAdjust="spacingAndGlyphs" transform="rotate(-45 220.8 317.4)" >No Activator</text>
<text x="245.2" y="317.4" font-size="8.6" text-anchor="end" font-weight="normal" fill="#1a1a1a" textLength="52.22" lengthAdjust="spacingAndGlyphs" transform="rotate(-45 245.2 317.4)" >HEK 293 DNA</text>
<text x="269.5" y="317.4" font-size="8.6" text-anchor="end" font-weight="normal" fill="#1a1a1a" textLength="35.71" lengthAdjust="spacingAndGlyphs" transform="rotate(-45 269.5 317.4)" >NET DNA</text>
<text x="293.9" y="317.4" font-size="8.6" text-anchor="end" font-weight="normal" fill="#1a1a1a" textLength="48.74" lengthAdjust="spacingAndGlyphs" transform="rotate(-45 293.9 317.4)" >Water Elution</text>
<text x="318.2" y="317.4" font-size="8.6" text-anchor="end" font-weight="normal" fill="#1a1a1a" textLength="21.34" lengthAdjust="spacingAndGlyphs" transform="rotate(-45 318.2 317.4)" >PolyP</text>
<text x="0" y="0" font-size="12.4" font-weight="bold" fill="#000" transform="translate(349.1 190.5) scale(0.92 1)">F</text>
<text x="357.2" y="252.6" font-size="10.4" text-anchor="middle" font-weight="normal" fill="#1a1a1a" textLength="56.3" lengthAdjust="spacingAndGlyphs" transform="rotate(-90 357.2 252.6)" >Clot time (min)</text>
<line x1="378" y1="196.4" x2="378" y2="308" stroke="#111" stroke-width="1.1" />
<line x1="376" y1="249.21" x2="378" y2="249.21" stroke="#111" stroke-width="0.8" />
<line x1="376" y1="233.1" x2="378" y2="233.1" stroke="#111" stroke-width="0.8" />
<line x1="376" y1="226.97" x2="378" y2="226.97" stroke="#111" stroke-width="0.8" />
<line x1="376" y1="221.67" x2="378" y2="221.67" stroke="#111" stroke-width="0.8" />
<line x1="376" y1="216.99" x2="378" y2="216.99" stroke="#111" stroke-width="0.8" />
<line x1="376" y1="209.01" x2="378" y2="209.01" stroke="#111" stroke-width="0.8" />
<line x1="376" y1="205.55" x2="378" y2="205.55" stroke="#111" stroke-width="0.8" />
<line x1="376" y1="202.37" x2="378" y2="202.37" stroke="#111" stroke-width="0.8" />
<line x1="376" y1="199.43" x2="378" y2="199.43" stroke="#111" stroke-width="0.8" />
<line x1="376" y1="196.69" x2="378" y2="196.69" stroke="#111" stroke-width="0.8" />
<line x1="374.8" y1="304.3" x2="378" y2="304.3" stroke="#111" stroke-width="1.0" />
<text x="0" y="0" font-size="8.7" text-anchor="end" font-weight="normal" fill="#1a1a1a" transform="translate(371.6 307.6) scale(0.86 1)" >1</text>
<line x1="376" y1="276.76" x2="378" y2="276.76" stroke="#111" stroke-width="1.0" />
<text x="0" y="0" font-size="8.7" text-anchor="end" font-weight="normal" fill="#1a1a1a" transform="translate(371.6 280.06) scale(0.86 1)" >2</text>
<line x1="376" y1="260.64" x2="378" y2="260.64" stroke="#111" stroke-width="1.0" />
<text x="0" y="0" font-size="8.7" text-anchor="end" font-weight="normal" fill="#1a1a1a" transform="translate(371.6 263.94) scale(0.86 1)" >3</text>
<line x1="376" y1="240.34" x2="378" y2="240.34" stroke="#111" stroke-width="1.0" />
<text x="0" y="0" font-size="8.7" text-anchor="end" font-weight="normal" fill="#1a1a1a" transform="translate(371.6 243.64) scale(0.86 1)" >5</text>
<line x1="374.8" y1="212.8" x2="378" y2="212.8" stroke="#111" stroke-width="1.0" />
<text x="0" y="0" font-size="8.7" text-anchor="end" font-weight="normal" fill="#1a1a1a" transform="translate(371.6 216.1) scale(0.86 1)" >10</text>
<line x1="385.65" y1="217.4" x2="385.65" y2="220.1" stroke="#1a1a1a" stroke-width="1.0" />
<line x1="384.05" y1="217.4" x2="387.25" y2="217.4" stroke="#1a1a1a" stroke-width="1.3" />
<line x1="392.55" y1="216.3" x2="392.55" y2="218.1" stroke="#1a1a1a" stroke-width="1.0" />
<line x1="390.95" y1="216.3" x2="394.15" y2="216.3" stroke="#1a1a1a" stroke-width="1.3" />
<rect x="382.85" y="220.1" width="5.6" height="87.9" fill="#a30e36"/>
<rect x="389.75" y="218.1" width="5.6" height="89.9" fill="#2d4a85"/>
<line x1="408.05" y1="243.2" x2="408.05" y2="246.6" stroke="#1a1a1a" stroke-width="1.0" />
<line x1="406.45" y1="243.2" x2="409.65" y2="243.2" stroke="#1a1a1a" stroke-width="1.3" />
<line x1="414.95" y1="233.6" x2="414.95" y2="238.7" stroke="#1a1a1a" stroke-width="1.0" />
<line x1="413.35" y1="233.6" x2="416.55" y2="233.6" stroke="#1a1a1a" stroke-width="1.3" />
<rect x="405.25" y="246.6" width="5.6" height="61.4" fill="#a30e36"/>
<rect x="412.15" y="238.7" width="5.6" height="69.3" fill="#2d4a85"/>
<line x1="430.45" y1="258.9" x2="430.45" y2="260.7" stroke="#1a1a1a" stroke-width="1.0" />
<line x1="428.85" y1="258.9" x2="432.05" y2="258.9" stroke="#1a1a1a" stroke-width="1.3" />
<line x1="437.35" y1="242.1" x2="437.35" y2="244.3" stroke="#1a1a1a" stroke-width="1.0" />
<line x1="435.75" y1="242.1" x2="438.95" y2="242.1" stroke="#1a1a1a" stroke-width="1.3" />
<rect x="427.65" y="260.7" width="5.6" height="47.3" fill="#a30e36"/>
<rect x="434.55" y="244.3" width="5.6" height="63.7" fill="#2d4a85"/>
<line x1="452.95" y1="244.3" x2="452.95" y2="247.3" stroke="#1a1a1a" stroke-width="1.0" />
<line x1="451.35" y1="244.3" x2="454.55" y2="244.3" stroke="#1a1a1a" stroke-width="1.3" />
<line x1="459.85" y1="239.4" x2="459.85" y2="242.1" stroke="#1a1a1a" stroke-width="1.0" />
<line x1="458.25" y1="239.4" x2="461.45" y2="239.4" stroke="#1a1a1a" stroke-width="1.3" />
<rect x="450.15" y="247.3" width="5.6" height="60.7" fill="#a30e36"/>
<rect x="457.05" y="242.1" width="5.6" height="65.9" fill="#2d4a85"/>
<line x1="482.05" y1="219.2" x2="482.05" y2="221.9" stroke="#1a1a1a" stroke-width="1.0" />
<line x1="480.45" y1="219.2" x2="483.65" y2="219.2" stroke="#1a1a1a" stroke-width="1.3" />
<rect x="472.35" y="294.8" width="5.6" height="13.2" fill="#a30e36"/>
<rect x="479.25" y="221.9" width="5.6" height="86.1" fill="#2d4a85"/>
<line x1="497.45" y1="275.3" x2="497.45" y2="278.4" stroke="#1a1a1a" stroke-width="1.0" />
<line x1="495.85" y1="275.3" x2="499.05" y2="275.3" stroke="#1a1a1a" stroke-width="1.3" />
<line x1="504.35" y1="215.9" x2="504.35" y2="220.8" stroke="#1a1a1a" stroke-width="1.0" />
<line x1="502.75" y1="215.9" x2="505.95" y2="215.9" stroke="#1a1a1a" stroke-width="1.3" />
<rect x="494.65" y="278.4" width="5.6" height="29.6" fill="#a30e36"/>
<rect x="501.55" y="220.8" width="5.6" height="87.2" fill="#2d4a85"/>
<line x1="377.5" y1="308" x2="513" y2="308" stroke="#111" stroke-width="1.2" />
<line x1="389.1" y1="308" x2="389.1" y2="310.5" stroke="#111" stroke-width="1.0" />
<line x1="411.5" y1="308" x2="411.5" y2="310.5" stroke="#111" stroke-width="1.0" />
<line x1="433.9" y1="308" x2="433.9" y2="310.5" stroke="#111" stroke-width="1.0" />
<line x1="456.4" y1="308" x2="456.4" y2="310.5" stroke="#111" stroke-width="1.0" />
<line x1="478.6" y1="308" x2="478.6" y2="310.5" stroke="#111" stroke-width="1.0" />
<line x1="500.9" y1="308" x2="500.9" y2="310.5" stroke="#111" stroke-width="1.0" />
<text x="393.3" y="317.2" font-size="8.2" text-anchor="end" font-weight="normal" fill="#1a1a1a" textLength="44.21" lengthAdjust="spacingAndGlyphs" transform="rotate(-45 393.3 317.2)" >No Activator</text>
<text x="415.7" y="317.2" font-size="8.2" text-anchor="end" font-weight="normal" fill="#1a1a1a" textLength="52.41" lengthAdjust="spacingAndGlyphs" transform="rotate(-45 415.7 317.2)" >HEK 293 DNA</text>
<text x="438.1" y="317.2" font-size="8.2" text-anchor="end" font-weight="normal" fill="#1a1a1a" textLength="35.84" lengthAdjust="spacingAndGlyphs" transform="rotate(-45 438.1 317.2)" >NET DNA</text>
<text x="460.6" y="317.2" font-size="8.2" text-anchor="end" font-weight="normal" fill="#1a1a1a" textLength="48.91" lengthAdjust="spacingAndGlyphs" transform="rotate(-45 460.6 317.2)" >Water Elution</text>
<text x="482.8" y="317.2" font-size="8.2" text-anchor="end" font-weight="normal" fill="#1a1a1a" textLength="21.42" lengthAdjust="spacingAndGlyphs" transform="rotate(-45 482.8 317.2)" >PolyP</text>
<text x="505.1" y="317.2" font-size="8.2" text-anchor="end" font-weight="normal" fill="#1a1a1a" textLength="22.33" lengthAdjust="spacingAndGlyphs" transform="rotate(-45 505.1 317.2)" >PolyG</text>
<text x="0" y="0" font-size="12.4" font-weight="bold" fill="#000" transform="translate(7.5 380.8) scale(0.92 1)">G</text>
<text x="15.6" y="443.1" font-size="10.4" text-anchor="middle" font-weight="normal" fill="#1a1a1a" textLength="56.3" lengthAdjust="spacingAndGlyphs" transform="rotate(-90 15.6 443.1)" >Clot time (min)</text>
<line x1="36.3" y1="387.5" x2="36.3" y2="498.5" stroke="#111" stroke-width="1.1" />
<line x1="34.3" y1="474.92" x2="36.3" y2="474.92" stroke="#111" stroke-width="0.8" />
<line x1="34.3" y1="447.43" x2="36.3" y2="447.43" stroke="#111" stroke-width="0.8" />
<line x1="34.3" y1="436.98" x2="36.3" y2="436.98" stroke="#111" stroke-width="0.8" />
<line x1="34.3" y1="427.93" x2="36.3" y2="427.93" stroke="#111" stroke-width="0.8" />
<line x1="34.3" y1="419.94" x2="36.3" y2="419.94" stroke="#111" stroke-width="0.8" />
<line x1="34.3" y1="406.34" x2="36.3" y2="406.34" stroke="#111" stroke-width="0.8" />
<line x1="34.3" y1="400.44" x2="36.3" y2="400.44" stroke="#111" stroke-width="0.8" />
<line x1="34.3" y1="395.01" x2="36.3" y2="395.01" stroke="#111" stroke-width="0.8" />
<line x1="34.3" y1="389.99" x2="36.3" y2="389.99" stroke="#111" stroke-width="0.8" />
<line x1="33.1" y1="494.42" x2="36.3" y2="494.42" stroke="#111" stroke-width="1.0" />
<text x="0" y="0" font-size="8.7" text-anchor="end" font-weight="normal" fill="#1a1a1a" transform="translate(29.9 497.72) scale(0.86 1)" >3</text>
<line x1="33.1" y1="459.79" x2="36.3" y2="459.79" stroke="#111" stroke-width="1.0" />
<text x="0" y="0" font-size="8.7" text-anchor="end" font-weight="normal" fill="#1a1a1a" transform="translate(29.9 463.09) scale(0.86 1)" >5</text>
<line x1="33.1" y1="412.8" x2="36.3" y2="412.8" stroke="#111" stroke-width="1.0" />
<text x="0" y="0" font-size="8.7" text-anchor="end" font-weight="normal" fill="#1a1a1a" transform="translate(29.9 416.1) scale(0.86 1)" >10</text>
<line x1="35" y1="498.3" x2="161.2" y2="498.3" stroke="#111" stroke-width="1.1" />
<line x1="42.5" y1="498.3" x2="42.5" y2="500.1" stroke="#111" stroke-width="0.8" />
<line x1="48.59" y1="498.3" x2="48.59" y2="500.1" stroke="#111" stroke-width="0.8" />
<line x1="54.69" y1="498.3" x2="54.69" y2="500.1" stroke="#111" stroke-width="0.8" />
<line x1="60.78" y1="498.3" x2="60.78" y2="500.1" stroke="#111" stroke-width="0.8" />
<line x1="72.98" y1="498.3" x2="72.98" y2="500.1" stroke="#111" stroke-width="0.8" />
<line x1="79.07" y1="498.3" x2="79.07" y2="500.1" stroke="#111" stroke-width="0.8" />
<line x1="85.17" y1="498.3" x2="85.17" y2="500.1" stroke="#111" stroke-width="0.8" />
<line x1="91.26" y1="498.3" x2="91.26" y2="500.1" stroke="#111" stroke-width="0.8" />
<line x1="103.46" y1="498.3" x2="103.46" y2="500.1" stroke="#111" stroke-width="0.8" />
<line x1="109.55" y1="498.3" x2="109.55" y2="500.1" stroke="#111" stroke-width="0.8" />
<line x1="115.65" y1="498.3" x2="115.65" y2="500.1" stroke="#111" stroke-width="0.8" />
<line x1="121.74" y1="498.3" x2="121.74" y2="500.1" stroke="#111" stroke-width="0.8" />
<line x1="133.94" y1="498.3" x2="133.94" y2="500.1" stroke="#111" stroke-width="0.8" />
<line x1="140.03" y1="498.3" x2="140.03" y2="500.1" stroke="#111" stroke-width="0.8" />
<line x1="146.13" y1="498.3" x2="146.13" y2="500.1" stroke="#111" stroke-width="0.8" />
<line x1="152.22" y1="498.3" x2="152.22" y2="500.1" stroke="#111" stroke-width="0.8" />
<line x1="36.4" y1="498.3" x2="36.4" y2="501.7" stroke="#111" stroke-width="1.0" />
<text x="0" y="0" font-size="8.7" text-anchor="middle" font-weight="normal" fill="#1a1a1a" transform="translate(36.4 511.6) scale(0.86 1)" >0</text>
<line x1="66.88" y1="498.3" x2="66.88" y2="501.7" stroke="#111" stroke-width="1.0" />
<text x="0" y="0" font-size="8.7" text-anchor="middle" font-weight="normal" fill="#1a1a1a" transform="translate(66.88 511.6) scale(0.86 1)" >2</text>
<line x1="97.36" y1="498.3" x2="97.36" y2="501.7" stroke="#111" stroke-width="1.0" />
<text x="0" y="0" font-size="8.7" text-anchor="middle" font-weight="normal" fill="#1a1a1a" transform="translate(97.36 511.6) scale(0.86 1)" >4</text>
<line x1="127.84" y1="498.3" x2="127.84" y2="501.7" stroke="#111" stroke-width="1.0" />
<text x="0" y="0" font-size="8.7" text-anchor="middle" font-weight="normal" fill="#1a1a1a" transform="translate(127.84 511.6) scale(0.86 1)" >6</text>
<line x1="158.32" y1="498.3" x2="158.32" y2="501.7" stroke="#111" stroke-width="1.0" />
<text x="0" y="0" font-size="8.7" text-anchor="middle" font-weight="normal" fill="#1a1a1a" transform="translate(158.32 511.6) scale(0.86 1)" >8</text>
<text x="98.9" y="524.5" font-size="10.4" text-anchor="middle" font-weight="normal" fill="#1a1a1a" textLength="67.8" lengthAdjust="spacingAndGlyphs" >Histones (&#181;g/mL)</text>
<line x1="41.9" y1="414.5" x2="41.9" y2="424.5" stroke="#1a1a1a" stroke-width="1.0" />
<line x1="40.3" y1="414.5" x2="43.5" y2="414.5" stroke="#1a1a1a" stroke-width="1.2" />
<line x1="40.3" y1="424.5" x2="43.5" y2="424.5" stroke="#1a1a1a" stroke-width="1.2" />
<line x1="45.3" y1="412.5" x2="45.3" y2="420" stroke="#1a1a1a" stroke-width="1.0" />
<line x1="43.7" y1="412.5" x2="46.9" y2="412.5" stroke="#1a1a1a" stroke-width="1.2" />
<line x1="43.7" y1="420" x2="46.9" y2="420" stroke="#1a1a1a" stroke-width="1.2" />
<line x1="50.5" y1="408.5" x2="50.5" y2="426" stroke="#1a1a1a" stroke-width="1.0" />
<line x1="48.9" y1="408.5" x2="52.1" y2="408.5" stroke="#1a1a1a" stroke-width="1.2" />
<line x1="48.9" y1="426" x2="52.1" y2="426" stroke="#1a1a1a" stroke-width="1.2" />
<line x1="60.9" y1="415" x2="60.9" y2="435" stroke="#1a1a1a" stroke-width="1.0" />
<line x1="59.3" y1="415" x2="62.5" y2="415" stroke="#1a1a1a" stroke-width="1.2" />
<line x1="59.3" y1="435" x2="62.5" y2="435" stroke="#1a1a1a" stroke-width="1.2" />
<line x1="77.7" y1="426" x2="77.7" y2="445" stroke="#1a1a1a" stroke-width="1.0" />
<line x1="76.1" y1="426" x2="79.3" y2="426" stroke="#1a1a1a" stroke-width="1.2" />
<line x1="76.1" y1="445" x2="79.3" y2="445" stroke="#1a1a1a" stroke-width="1.2" />
<line x1="45.4" y1="463" x2="45.4" y2="470.5" stroke="#1a1a1a" stroke-width="1.0" />
<line x1="43.8" y1="463" x2="47" y2="463" stroke="#1a1a1a" stroke-width="1.2" />
<line x1="43.8" y1="470.5" x2="47" y2="470.5" stroke="#1a1a1a" stroke-width="1.2" />
<line x1="51.5" y1="449.5" x2="51.5" y2="457.5" stroke="#1a1a1a" stroke-width="1.0" />
<line x1="49.9" y1="449.5" x2="53.1" y2="449.5" stroke="#1a1a1a" stroke-width="1.2" />
<line x1="49.9" y1="457.5" x2="53.1" y2="457.5" stroke="#1a1a1a" stroke-width="1.2" />
<line x1="41.5" y1="470.5" x2="41.5" y2="476.5" stroke="#1a1a1a" stroke-width="1.0" />
<line x1="39.9" y1="470.5" x2="43.1" y2="470.5" stroke="#1a1a1a" stroke-width="1.2" />
<line x1="39.9" y1="476.5" x2="43.1" y2="476.5" stroke="#1a1a1a" stroke-width="1.2" />
<line x1="105.1" y1="418.4" x2="105.1" y2="435.2" stroke="#1a1a1a" stroke-width="1.0" />
<line x1="103.5" y1="418.4" x2="106.7" y2="418.4" stroke="#1a1a1a" stroke-width="1.2" />
<line x1="103.5" y1="435.2" x2="106.7" y2="435.2" stroke="#1a1a1a" stroke-width="1.2" />
<line x1="150.6" y1="418.5" x2="150.6" y2="429.6" stroke="#1a1a1a" stroke-width="1.0" />
<line x1="149" y1="418.5" x2="152.2" y2="418.5" stroke="#1a1a1a" stroke-width="1.2" />
<line x1="149" y1="429.6" x2="152.2" y2="429.6" stroke="#1a1a1a" stroke-width="1.2" />
<polyline points="36.3,418 41.9,419.7 45.3,416.2 50.5,416.2 60.9,423.7 77.5,414.5 105.1,429.6 150.6,422.3" fill="none" stroke="#2b4673" stroke-width="1.7" stroke-linejoin="round"/>
<polyline points="36.6,493.1 41.5,473.5 45.4,466.9 51.5,453.5 61.2,434.2 77.7,434.6 105.1,420.1 150.6,414.9" fill="none" stroke="#960c33" stroke-width="1.6" stroke-linejoin="round"/>
<polygon points="36.3,414.81 39.2,420.18 33.4,420.18" fill="#2d4a85" stroke="#213a6a" stroke-width="0.7" stroke-linejoin="miter"/>
<polygon points="41.9,416.51 44.8,421.88 39,421.88" fill="#2d4a85" stroke="#213a6a" stroke-width="0.7" stroke-linejoin="miter"/>
<polygon points="45.3,413.01 48.2,418.38 42.4,418.38" fill="#2d4a85" stroke="#213a6a" stroke-width="0.7" stroke-linejoin="miter"/>
<polygon points="50.5,413.01 53.4,418.38 47.6,418.38" fill="#2d4a85" stroke="#213a6a" stroke-width="0.7" stroke-linejoin="miter"/>
<polygon points="60.9,420.51 63.8,425.88 58,425.88" fill="#2d4a85" stroke="#213a6a" stroke-width="0.7" stroke-linejoin="miter"/>
<polygon points="77.5,411.31 80.4,416.68 74.6,416.68" fill="#2d4a85" stroke="#213a6a" stroke-width="0.7" stroke-linejoin="miter"/>
<polygon points="105.1,426.41 108,431.78 102.2,431.78" fill="#2d4a85" stroke="#213a6a" stroke-width="0.7" stroke-linejoin="miter"/>
<polygon points="150.6,419.11 153.5,424.48 147.7,424.48" fill="#2d4a85" stroke="#213a6a" stroke-width="0.7" stroke-linejoin="miter"/>
<polygon points="36.6,490.46 39,494.9 34.2,494.9" fill="#fff" stroke="#a30e36" stroke-width="1.3" stroke-linejoin="miter"/>
<polygon points="41.5,470.86 43.9,475.3 39.1,475.3" fill="#fff" stroke="#a30e36" stroke-width="1.3" stroke-linejoin="miter"/>
<polygon points="45.4,464.26 47.8,468.7 43,468.7" fill="#fff" stroke="#a30e36" stroke-width="1.3" stroke-linejoin="miter"/>
<polygon points="51.5,450.86 53.9,455.3 49.1,455.3" fill="#fff" stroke="#a30e36" stroke-width="1.3" stroke-linejoin="miter"/>
<polygon points="61.2,431.56 63.6,436 58.8,436" fill="#fff" stroke="#a30e36" stroke-width="1.3" stroke-linejoin="miter"/>
<polygon points="77.7,431.96 80.1,436.4 75.3,436.4" fill="#fff" stroke="#a30e36" stroke-width="1.3" stroke-linejoin="miter"/>
<polygon points="105.1,417.46 107.5,421.9 102.7,421.9" fill="#fff" stroke="#a30e36" stroke-width="1.3" stroke-linejoin="miter"/>
<polygon points="150.6,412.26 153,416.7 148.2,416.7" fill="#fff" stroke="#a30e36" stroke-width="1.3" stroke-linejoin="miter"/>
<text x="0" y="0" font-size="12.4" font-weight="bold" fill="#000" transform="translate(175.2 380.5) scale(0.92 1)">H</text>
<text x="183.6" y="442.6" font-size="10.4" text-anchor="middle" font-weight="normal" fill="#1a1a1a" textLength="55.8" lengthAdjust="spacingAndGlyphs" transform="rotate(-90 183.6 442.6)" >Clot time (sec)</text>
<line x1="204.2" y1="387.6" x2="204.2" y2="498.5" stroke="#111" stroke-width="1.1" />
<line x1="201" y1="498.7" x2="204.2" y2="498.7" stroke="#111" stroke-width="1.0" />
<text x="0" y="0" font-size="8.7" text-anchor="end" font-weight="normal" fill="#1a1a1a" transform="translate(197.8 502) scale(0.86 1)" >10</text>
<line x1="201" y1="452.04" x2="204.2" y2="452.04" stroke="#111" stroke-width="1.0" />
<text x="0" y="0" font-size="8.7" text-anchor="end" font-weight="normal" fill="#1a1a1a" transform="translate(197.8 455.34) scale(0.86 1)" >20</text>
<line x1="201" y1="424.75" x2="204.2" y2="424.75" stroke="#111" stroke-width="1.0" />
<text x="0" y="0" font-size="8.7" text-anchor="end" font-weight="normal" fill="#1a1a1a" transform="translate(197.8 428.05) scale(0.86 1)" >30</text>
<line x1="201" y1="405.38" x2="204.2" y2="405.38" stroke="#111" stroke-width="1.0" />
<text x="0" y="0" font-size="8.7" text-anchor="end" font-weight="normal" fill="#1a1a1a" transform="translate(197.8 408.68) scale(0.86 1)" >40</text>
<line x1="201" y1="390.36" x2="204.2" y2="390.36" stroke="#111" stroke-width="1.0" />
<text x="0" y="0" font-size="8.7" text-anchor="end" font-weight="normal" fill="#1a1a1a" transform="translate(197.8 393.66) scale(0.86 1)" >50</text>
<line x1="203.6" y1="498.4" x2="329.2" y2="498.4" stroke="#111" stroke-width="1.1" />
<line x1="210.06" y1="498.4" x2="210.06" y2="500.2" stroke="#111" stroke-width="0.8" />
<line x1="216.17" y1="498.4" x2="216.17" y2="500.2" stroke="#111" stroke-width="0.8" />
<line x1="222.29" y1="498.4" x2="222.29" y2="500.2" stroke="#111" stroke-width="0.8" />
<line x1="228.4" y1="498.4" x2="228.4" y2="500.2" stroke="#111" stroke-width="0.8" />
<line x1="240.62" y1="498.4" x2="240.62" y2="500.2" stroke="#111" stroke-width="0.8" />
<line x1="246.73" y1="498.4" x2="246.73" y2="500.2" stroke="#111" stroke-width="0.8" />
<line x1="252.85" y1="498.4" x2="252.85" y2="500.2" stroke="#111" stroke-width="0.8" />
<line x1="258.96" y1="498.4" x2="258.96" y2="500.2" stroke="#111" stroke-width="0.8" />
<line x1="271.18" y1="498.4" x2="271.18" y2="500.2" stroke="#111" stroke-width="0.8" />
<line x1="277.29" y1="498.4" x2="277.29" y2="500.2" stroke="#111" stroke-width="0.8" />
<line x1="283.41" y1="498.4" x2="283.41" y2="500.2" stroke="#111" stroke-width="0.8" />
<line x1="289.52" y1="498.4" x2="289.52" y2="500.2" stroke="#111" stroke-width="0.8" />
<line x1="301.74" y1="498.4" x2="301.74" y2="500.2" stroke="#111" stroke-width="0.8" />
<line x1="307.85" y1="498.4" x2="307.85" y2="500.2" stroke="#111" stroke-width="0.8" />
<line x1="313.97" y1="498.4" x2="313.97" y2="500.2" stroke="#111" stroke-width="0.8" />
<line x1="320.08" y1="498.4" x2="320.08" y2="500.2" stroke="#111" stroke-width="0.8" />
<line x1="203.95" y1="498.4" x2="203.95" y2="501.8" stroke="#111" stroke-width="1.0" />
<text x="0" y="0" font-size="8.7" text-anchor="middle" font-weight="normal" fill="#1a1a1a" transform="translate(203.95 511.7) scale(0.86 1)" >0</text>
<line x1="234.51" y1="498.4" x2="234.51" y2="501.8" stroke="#111" stroke-width="1.0" />
<text x="0" y="0" font-size="8.7" text-anchor="middle" font-weight="normal" fill="#1a1a1a" transform="translate(234.51 511.7) scale(0.86 1)" >2</text>
<line x1="265.07" y1="498.4" x2="265.07" y2="501.8" stroke="#111" stroke-width="1.0" />
<text x="0" y="0" font-size="8.7" text-anchor="middle" font-weight="normal" fill="#1a1a1a" transform="translate(265.07 511.7) scale(0.86 1)" >4</text>
<line x1="295.63" y1="498.4" x2="295.63" y2="501.8" stroke="#111" stroke-width="1.0" />
<text x="0" y="0" font-size="8.7" text-anchor="middle" font-weight="normal" fill="#1a1a1a" transform="translate(295.63 511.7) scale(0.86 1)" >6</text>
<line x1="326.19" y1="498.4" x2="326.19" y2="501.8" stroke="#111" stroke-width="1.0" />
<text x="0" y="0" font-size="8.7" text-anchor="middle" font-weight="normal" fill="#1a1a1a" transform="translate(326.19 511.7) scale(0.86 1)" >8</text>
<text x="266.9" y="524.5" font-size="10.4" text-anchor="middle" font-weight="normal" fill="#1a1a1a" textLength="67.8" lengthAdjust="spacingAndGlyphs" >Histones (&#181;g/mL)</text>
<line x1="209.9" y1="447.3" x2="209.9" y2="462.1" stroke="#1a1a1a" stroke-width="1.0" />
<line x1="208.3" y1="447.3" x2="211.5" y2="447.3" stroke="#1a1a1a" stroke-width="1.2" />
<line x1="208.3" y1="462.1" x2="211.5" y2="462.1" stroke="#1a1a1a" stroke-width="1.2" />
<line x1="213.6" y1="449.8" x2="213.6" y2="457.4" stroke="#1a1a1a" stroke-width="1.0" />
<line x1="212" y1="449.8" x2="215.2" y2="449.8" stroke="#1a1a1a" stroke-width="1.2" />
<line x1="212" y1="457.4" x2="215.2" y2="457.4" stroke="#1a1a1a" stroke-width="1.2" />
<line x1="219.4" y1="449" x2="219.4" y2="455" stroke="#1a1a1a" stroke-width="1.0" />
<line x1="217.8" y1="449" x2="221" y2="449" stroke="#1a1a1a" stroke-width="1.2" />
<line x1="217.8" y1="455" x2="221" y2="455" stroke="#1a1a1a" stroke-width="1.2" />
<line x1="204.3" y1="449.5" x2="204.3" y2="457" stroke="#1a1a1a" stroke-width="1.0" />
<line x1="202.7" y1="449.5" x2="205.9" y2="449.5" stroke="#1a1a1a" stroke-width="1.2" />
<line x1="202.7" y1="457" x2="205.9" y2="457" stroke="#1a1a1a" stroke-width="1.2" />
<polyline points="204.3,453.2 209.9,454 213.6,453.2 219.4,452 229.5,454.9 245.9,455.4 272.9,451.8 318.8,450.2" fill="none" stroke="#960c33" stroke-width="1.6" stroke-linejoin="round"/>
<circle cx="204.3" cy="453.2" r="2.6" fill="#a30e36" stroke="#8a0a2a" stroke-width="0.6"/>
<circle cx="209.9" cy="454" r="2.6" fill="#a30e36" stroke="#8a0a2a" stroke-width="0.6"/>
<circle cx="213.6" cy="453.2" r="2.6" fill="#a30e36" stroke="#8a0a2a" stroke-width="0.6"/>
<circle cx="219.4" cy="452" r="2.6" fill="#a30e36" stroke="#8a0a2a" stroke-width="0.6"/>
<circle cx="229.5" cy="454.9" r="2.6" fill="#a30e36" stroke="#8a0a2a" stroke-width="0.6"/>
<circle cx="245.9" cy="455.4" r="2.6" fill="#a30e36" stroke="#8a0a2a" stroke-width="0.6"/>
<circle cx="272.9" cy="451.8" r="2.6" fill="#a30e36" stroke="#8a0a2a" stroke-width="0.6"/>
<circle cx="318.8" cy="450.2" r="2.6" fill="#a30e36" stroke="#8a0a2a" stroke-width="0.6"/>
<rect x="0" y="0" width="520" height="1.2" fill="#000"/>
<rect x="0" y="0" width="1.5" height="535" fill="#000"/>
<rect x="518.7" y="0" width="1.3" height="535" fill="#000"/>
<rect x="0" y="533.5" width="520" height="1.5" fill="#000"/>
</svg>
</body></html>
